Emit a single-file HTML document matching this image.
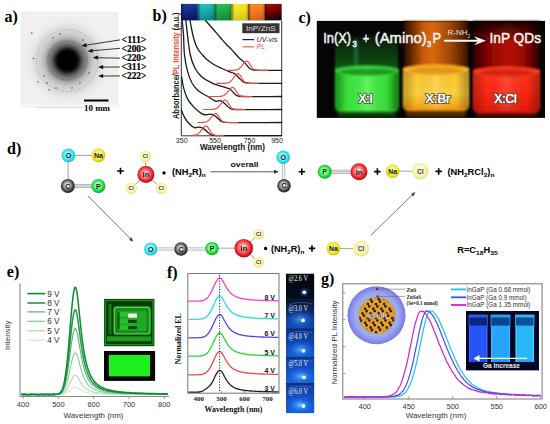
<!DOCTYPE html><html><head><meta charset="utf-8"><style>html,body{margin:0;padding:0;background:#fff;width:550px;height:424px;overflow:hidden}svg{display:block}</style></head><body>
<svg width="550" height="424" viewBox="0 0 550 424">
<defs>
<radialGradient id="diff" cx="0.5" cy="0.5" r="0.5">
<stop offset="0" stop-color="#000"/>
<stop offset="0.2" stop-color="#000"/>
<stop offset="0.25" stop-color="#1a1a1a"/>
<stop offset="0.3" stop-color="#4a4a4a"/>
<stop offset="0.38" stop-color="#7a7a7a"/>
<stop offset="0.45" stop-color="#9a9a9a"/>
<stop offset="0.5" stop-color="#bcbcbc"/>
<stop offset="0.6" stop-color="#cfcfcf"/>
<stop offset="0.72" stop-color="#dedede"/>
<stop offset="0.85" stop-color="#e8e8e8" stop-opacity="0.5"/>
<stop offset="1" stop-color="#eeeeee" stop-opacity="0"/>
</radialGradient>
<filter id="soft"><feGaussianBlur stdDeviation="0.6"/></filter>
<radialGradient id="ball" cx="0.38" cy="0.35" r="0.7">
<stop offset="0" stop-color="#fff" stop-opacity="0.9"/>
<stop offset="0.35" stop-color="#fff" stop-opacity="0"/>
<stop offset="1" stop-color="#000" stop-opacity="0.25"/>
</radialGradient>
</defs>
<text x="4.5" y="21.5" font-size="16" font-family="Liberation Serif, serif" font-weight="bold" fill="#000" text-anchor="start" >a)</text>
<rect x="20.5" y="11.5" width="98" height="96" fill="#f0f0f0"/>
<rect x="20.5" y="104" width="98" height="3.5" fill="#f6f6f6"/>
<line x1="37" y1="107.6" x2="83" y2="107.6" stroke="#d0d0d0" stroke-width="0.8"/>
<circle cx="67.3" cy="60.5" r="46" fill="url(#diff)"/>
<circle cx="67.3" cy="60.5" r="13.5" fill="none" stroke="#333" stroke-width="1" stroke-dasharray="1 1.6" opacity="0.25" filter="url(#soft)"/>
<circle cx="67.3" cy="60.5" r="19.5" fill="none" stroke="#333" stroke-width="1" stroke-dasharray="1 1.6" opacity="0.5" filter="url(#soft)"/>
<circle cx="67.3" cy="60.5" r="23.5" fill="none" stroke="#333" stroke-width="1" stroke-dasharray="1 1.6" opacity="0.2" filter="url(#soft)"/>
<circle cx="67.3" cy="60.5" r="31" fill="none" stroke="#333" stroke-width="1" stroke-dasharray="1 1.6" opacity="0.3" filter="url(#soft)"/>
<circle cx="31.8" cy="33" r="0.8" fill="#555"/>
<circle cx="33.5" cy="58.6" r="0.8" fill="#555"/>
<circle cx="44" cy="76" r="0.8" fill="#555"/>
<circle cx="47" cy="83" r="0.8" fill="#555"/>
<circle cx="56" cy="88" r="0.8" fill="#555"/>
<circle cx="72" cy="88" r="0.8" fill="#555"/>
<circle cx="80" cy="83" r="0.8" fill="#555"/>
<circle cx="89" cy="73" r="0.8" fill="#555"/>
<circle cx="53" cy="38" r="0.8" fill="#555"/>
<circle cx="83" cy="40" r="0.8" fill="#555"/>
<circle cx="93" cy="50" r="0.8" fill="#555"/>
<circle cx="60" cy="34" r="0.8" fill="#555"/>
<circle cx="38" cy="82" r="0.8" fill="#555"/>
<circle cx="49" cy="90" r="0.8" fill="#555"/>
<line x1="84" y1="100.5" x2="108.5" y2="100.5" stroke="#000" stroke-width="2"/>
<text x="84" y="110.5" font-size="8.5" font-family="Liberation Serif, serif" font-weight="bold" fill="#000" text-anchor="start" textLength="26" lengthAdjust="spacingAndGlyphs" >10 mm</text>
<text x="121.5" y="43.1" font-size="9.5" font-family="Liberation Serif, serif" font-weight="bold" fill="#000" text-anchor="start" textLength="25" lengthAdjust="spacingAndGlyphs" stroke="#000" stroke-width="0.2">&lt;111&gt;</text>
<line x1="120" y1="39.9" x2="85.9" y2="45.2" stroke="#222" stroke-width="0.9"/>
<path d="M81.5,45.9 L86.1,43.1 L86.8,47.2Z" fill="#111"/>
<text x="121.5" y="51.5" font-size="9.5" font-family="Liberation Serif, serif" font-weight="bold" fill="#000" text-anchor="start" textLength="25" lengthAdjust="spacingAndGlyphs" stroke="#000" stroke-width="0.2">&lt;200&gt;</text>
<line x1="120" y1="48.3" x2="92.0" y2="50.8" stroke="#222" stroke-width="0.9"/>
<path d="M87.5,51.2 L92.3,48.7 L92.7,52.8Z" fill="#111"/>
<text x="121.5" y="61.400000000000006" font-size="9.5" font-family="Liberation Serif, serif" font-weight="bold" fill="#000" text-anchor="start" textLength="25" lengthAdjust="spacingAndGlyphs" stroke="#000" stroke-width="0.2">&lt;220&gt;</text>
<line x1="120" y1="58.2" x2="97.3" y2="57.7" stroke="#222" stroke-width="0.9"/>
<path d="M92.8,57.6 L97.8,55.6 L97.8,59.8Z" fill="#111"/>
<text x="121.5" y="70.2" font-size="9.5" font-family="Liberation Serif, serif" font-weight="bold" fill="#000" text-anchor="start" textLength="25" lengthAdjust="spacingAndGlyphs" stroke="#000" stroke-width="0.2">&lt;311&gt;</text>
<line x1="120" y1="67" x2="102.6" y2="67.1" stroke="#222" stroke-width="0.9"/>
<path d="M98.1,67.1 L103.1,65.0 L103.1,69.2Z" fill="#111"/>
<text x="121.5" y="79.10000000000001" font-size="9.5" font-family="Liberation Serif, serif" font-weight="bold" fill="#000" text-anchor="start" textLength="25" lengthAdjust="spacingAndGlyphs" stroke="#000" stroke-width="0.2">&lt;222&gt;</text>
<line x1="120" y1="75.9" x2="102.6" y2="76.0" stroke="#222" stroke-width="0.9"/>
<path d="M98.1,76.0 L103.1,73.9 L103.1,78.1Z" fill="#111"/>
<text x="152.5" y="21" font-size="16" font-family="Liberation Serif, serif" font-weight="bold" fill="#000" text-anchor="start" >b)</text>
<defs>
<linearGradient id="cb0" x1="0" y1="0" x2="0.3" y2="1"><stop offset="0" stop-color="#2040a6"/><stop offset="0.55" stop-color="#18288a"/><stop offset="1" stop-color="#0c1460"/></linearGradient>
<linearGradient id="cb1" x1="0" y1="0" x2="0.3" y2="1"><stop offset="0" stop-color="#24c4c4"/><stop offset="0.55" stop-color="#16aab0"/><stop offset="1" stop-color="#0e8a90"/></linearGradient>
<linearGradient id="cb2" x1="0" y1="0" x2="0.3" y2="1"><stop offset="0" stop-color="#34c258"/><stop offset="0.55" stop-color="#22a84a"/><stop offset="1" stop-color="#16883a"/></linearGradient>
<linearGradient id="cb3" x1="0" y1="0" x2="0.3" y2="1"><stop offset="0" stop-color="#f6ec2a"/><stop offset="0.55" stop-color="#ece024"/><stop offset="1" stop-color="#d8c818"/></linearGradient>
<linearGradient id="cb4" x1="0" y1="0" x2="0.3" y2="1"><stop offset="0" stop-color="#f69028"/><stop offset="0.55" stop-color="#ee7a1e"/><stop offset="1" stop-color="#d86414"/></linearGradient>
<linearGradient id="cb5" x1="0" y1="0" x2="0.3" y2="1"><stop offset="0" stop-color="#b00c10"/><stop offset="0.55" stop-color="#6a0204"/><stop offset="1" stop-color="#2a0000"/></linearGradient>
<linearGradient id="cbEdge" x1="0" y1="0" x2="1" y2="0"><stop offset="0" stop-color="#000" stop-opacity="0.55"/><stop offset="0.18" stop-color="#000" stop-opacity="0"/><stop offset="0.85" stop-color="#000" stop-opacity="0"/><stop offset="1" stop-color="#000" stop-opacity="0.25"/></linearGradient>
</defs>
<rect x="181.00" y="3.9" width="16.85" height="16.7" fill="url(#cb0)"/>
<rect x="181.00" y="3.9" width="16.85" height="16.7" fill="url(#cbEdge)"/>
<rect x="197.75" y="3.9" width="16.85" height="16.7" fill="url(#cb1)"/>
<rect x="197.75" y="3.9" width="16.85" height="16.7" fill="url(#cbEdge)"/>
<rect x="214.50" y="3.9" width="16.85" height="16.7" fill="url(#cb2)"/>
<rect x="214.50" y="3.9" width="16.85" height="16.7" fill="url(#cbEdge)"/>
<rect x="231.25" y="3.9" width="16.85" height="16.7" fill="url(#cb3)"/>
<rect x="231.25" y="3.9" width="16.85" height="16.7" fill="url(#cbEdge)"/>
<rect x="248.00" y="3.9" width="16.85" height="16.7" fill="url(#cb4)"/>
<rect x="248.00" y="3.9" width="16.85" height="16.7" fill="url(#cbEdge)"/>
<rect x="264.75" y="3.9" width="16.85" height="16.7" fill="url(#cb5)"/>
<rect x="264.75" y="3.9" width="16.85" height="16.7" fill="url(#cbEdge)"/>
<line x1="181" y1="20.6" x2="282" y2="20.6" stroke="#8ee" stroke-width="0.6"/>
<path d="M181.3,20.5 V135.8 H281.7 V20.5" fill="none" stroke="#333" stroke-width="1"/>
<g fill="none" stroke-linejoin="round" stroke-linecap="round">
<path d="M205.6,20.5 C206.8,21.9 210.5,26.1 213.0,29.0 C215.5,31.9 218.3,35.3 220.5,37.8 C222.7,40.3 224.1,42.0 226.0,44.0 C227.9,46.0 229.7,47.6 231.9,49.9 C234.1,52.2 236.9,55.6 239.0,57.7 C241.1,59.8 242.7,60.7 244.6,62.6 C246.5,64.5 248.4,67.8 250.3,69.0 C252.2,70.2 252.7,69.9 256.0,70.1 C259.3,70.3 265.7,70.3 270.0,70.3 C274.3,70.3 279.8,70.3 281.7,70.3" stroke="#1a1a1a" stroke-width="1.3"/>
<path d="M190.0,20.5 C190.3,22.1 191.2,27.0 191.8,30.0 C192.4,33.0 193.0,35.8 193.8,38.5 C194.6,41.2 195.5,44.2 196.4,46.3 C197.3,48.4 198.3,49.8 199.3,51.2 C200.3,52.7 201.4,53.7 202.6,55.0 C203.8,56.3 204.6,57.5 206.3,59.0 C208.0,60.5 210.6,62.5 213.0,64.0 C215.4,65.5 218.2,66.7 221.0,68.0 C223.8,69.3 227.8,71.0 229.9,71.9 C232.0,72.8 232.4,72.7 233.5,73.2 C234.6,73.7 235.2,74.0 236.2,74.9 C237.2,75.8 238.3,77.3 239.5,78.5 C240.7,79.7 241.6,81.0 243.2,81.8 C244.8,82.6 245.3,82.9 248.9,83.2 C252.5,83.5 259.5,83.4 265.0,83.4 C270.5,83.4 278.9,83.4 281.7,83.4" stroke="#1a1a1a" stroke-width="1.3"/>
<path d="M185.8,20.5 C186.1,22.9 186.8,29.2 187.5,35.0 C188.2,40.8 189.1,49.5 190.3,55.0 C191.5,60.5 193.1,64.4 194.9,68.0 C196.7,71.6 198.5,73.9 201.3,76.4 C204.1,78.9 208.4,81.3 211.7,82.9 C214.9,84.5 218.2,85.2 220.8,86.1 C223.4,87.0 225.8,87.6 227.3,88.1 C228.8,88.6 228.5,87.8 230.0,89.0 C231.5,90.2 234.2,94.0 236.2,95.2 C238.2,96.5 238.0,96.3 242.0,96.5 C246.0,96.7 253.4,96.6 260.0,96.6 C266.6,96.6 278.1,96.5 281.7,96.5" stroke="#1a1a1a" stroke-width="1.3"/>
<path d="M182.2,20.5 C182.4,22.9 183.1,29.2 183.5,35.0 C183.9,40.8 183.8,48.9 184.5,55.0 C185.2,61.1 186.4,67.2 187.7,71.9 C189.0,76.7 190.5,80.3 192.3,83.5 C194.2,86.7 196.2,89.1 198.8,91.3 C201.4,93.5 205.0,94.8 207.8,96.5 C210.6,98.2 213.6,100.5 215.7,101.2 C217.8,101.9 218.8,100.1 220.4,100.6 C222.0,101.1 223.6,102.8 225.2,104.1 C226.8,105.4 228.3,107.4 229.9,108.3 C231.5,109.2 229.6,109.3 234.6,109.5 C239.6,109.7 252.2,109.6 260.0,109.6 C267.9,109.6 278.1,109.5 281.7,109.5" stroke="#1a1a1a" stroke-width="1.3"/>
<path d="M181.6,77.0 C182.0,79.0 182.8,85.0 183.8,88.7 C184.8,92.4 186.1,96.1 187.7,99.1 C189.3,102.1 191.3,104.5 193.6,106.9 C195.9,109.3 199.5,112.3 201.6,113.6 C203.7,114.9 204.7,114.7 206.3,114.8 C207.9,114.9 209.4,113.9 211.0,114.2 C212.6,114.5 214.1,115.4 215.7,116.5 C217.3,117.6 218.8,119.6 220.4,120.6 C222.0,121.6 220.3,122.1 225.2,122.4 C230.1,122.7 240.6,122.6 250.0,122.6 C259.4,122.6 276.4,122.5 281.7,122.5" stroke="#1a1a1a" stroke-width="1.3"/>
<path d="M181.3,110.0 C181.9,111.4 183.7,115.9 185.1,118.3 C186.5,120.7 188.2,122.6 189.8,124.2 C191.4,125.8 192.9,127.2 194.5,127.7 C196.1,128.2 197.6,126.9 199.2,127.1 C200.8,127.3 202.3,127.9 203.9,128.9 C205.5,129.9 207.0,131.9 208.6,133.0 C210.2,134.1 209.8,135.0 213.4,135.4 C217.0,135.8 218.6,135.6 230.0,135.6 C241.4,135.6 273.1,135.6 281.7,135.6" stroke="#1a1a1a" stroke-width="1.3"/>
<path d="M228.0,70.3 L228.5,70.3 L229.0,70.3 L229.5,70.3 L230.0,70.3 L230.5,70.3 L231.0,70.3 L231.5,70.3 L232.0,70.3 L232.5,70.3 L233.0,70.3 L233.5,70.2 L234.0,70.2 L234.5,70.2 L235.0,70.1 L235.5,70.1 L236.0,70.0 L236.5,69.9 L237.0,69.7 L237.5,69.5 L238.0,69.3 L238.5,69.0 L239.0,68.7 L239.5,68.3 L240.0,67.8 L240.5,67.3 L241.0,66.8 L241.5,66.2 L242.0,65.6 L242.5,64.9 L243.0,64.3 L243.5,63.6 L244.0,63.0 L244.5,62.5 L245.0,62.0 L245.5,61.6 L246.0,61.4 L246.5,61.2 L247.0,61.2 L247.5,61.4 L248.0,61.7 L248.5,62.3 L249.0,62.9 L249.5,63.7 L250.0,64.5 L250.5,65.3 L251.0,66.1 L251.5,66.8 L252.0,67.5 L252.5,68.1 L253.0,68.6 L253.5,69.0 L254.0,69.3 L254.5,69.6 L255.0,69.8 L255.5,70.0 L256.0,70.1 L256.5,70.1 L257.0,70.2 L257.5,70.2 L258.0,70.3 L258.5,70.3 L259.0,70.3 L259.5,70.3 L260.0,70.3 L260.5,70.3 L261.0,70.3 L261.5,70.3 L262.0,70.3 L262.5,70.3 L263.0,70.3 L263.5,70.3 L264.0,70.3 L264.5,70.3 L265.0,70.3 L265.5,70.3 L266.0,70.3 L266.5,70.3 L267.0,70.3 L267.5,70.3 L268.0,70.3" stroke="#f04a40" stroke-width="1.2"/>
<path d="M217.0,83.4 L217.5,83.4 L218.0,83.4 L218.5,83.4 L219.0,83.4 L219.5,83.4 L220.0,83.4 L220.5,83.4 L221.0,83.4 L221.5,83.4 L222.0,83.4 L222.5,83.4 L223.0,83.4 L223.5,83.4 L224.0,83.4 L224.5,83.3 L225.0,83.3 L225.5,83.3 L226.0,83.2 L226.5,83.2 L227.0,83.1 L227.5,83.0 L228.0,82.8 L228.5,82.6 L229.0,82.4 L229.5,82.1 L230.0,81.8 L230.5,81.4 L231.0,81.0 L231.5,80.5 L232.0,79.9 L232.5,79.3 L233.0,78.6 L233.5,77.9 L234.0,77.2 L234.5,76.5 L235.0,75.9 L235.5,75.3 L236.0,74.7 L236.5,74.3 L237.0,74.0 L237.5,73.8 L238.0,73.7 L238.5,73.8 L239.0,74.1 L239.5,74.6 L240.0,75.2 L240.5,76.0 L241.0,76.8 L241.5,77.7 L242.0,78.5 L242.5,79.4 L243.0,80.1 L243.5,80.8 L244.0,81.4 L244.5,81.8 L245.0,82.2 L245.5,82.5 L246.0,82.8 L246.5,83.0 L247.0,83.1 L247.5,83.2 L248.0,83.3 L248.5,83.3 L249.0,83.3 L249.5,83.4 L250.0,83.4 L250.5,83.4 L251.0,83.4 L251.5,83.4 L252.0,83.4 L252.5,83.4 L253.0,83.4 L253.5,83.4 L254.0,83.4 L254.5,83.4 L255.0,83.4 L255.5,83.4 L256.0,83.4 L256.5,83.4 L257.0,83.4 L257.5,83.4 L258.0,83.4" stroke="#f04a40" stroke-width="1.2"/>
<path d="M208.0,96.5 L208.5,96.5 L209.0,96.5 L209.5,96.5 L210.0,96.5 L210.5,96.5 L211.0,96.5 L211.5,96.5 L212.0,96.5 L212.5,96.5 L213.0,96.5 L213.5,96.5 L214.0,96.5 L214.5,96.5 L215.0,96.5 L215.5,96.5 L216.0,96.5 L216.5,96.5 L217.0,96.5 L217.5,96.5 L218.0,96.5 L218.5,96.5 L219.0,96.5 L219.5,96.4 L220.0,96.4 L220.5,96.4 L221.0,96.3 L221.5,96.2 L222.0,96.1 L222.5,96.0 L223.0,95.8 L223.5,95.6 L224.0,95.4 L224.5,95.1 L225.0,94.7 L225.5,94.3 L226.0,93.9 L226.5,93.3 L227.0,92.8 L227.5,92.1 L228.0,91.5 L228.5,90.8 L229.0,90.2 L229.5,89.6 L230.0,89.0 L230.5,88.5 L231.0,88.0 L231.5,87.7 L232.0,87.5 L232.5,87.4 L233.0,87.5 L233.5,87.7 L234.0,88.1 L234.5,88.7 L235.0,89.4 L235.5,90.2 L236.0,91.0 L236.5,91.8 L237.0,92.6 L237.5,93.3 L238.0,93.9 L238.5,94.5 L239.0,95.0 L239.5,95.3 L240.0,95.6 L240.5,95.9 L241.0,96.1 L241.5,96.2 L242.0,96.3 L242.5,96.4 L243.0,96.4 L243.5,96.4 L244.0,96.5 L244.5,96.5 L245.0,96.5 L245.5,96.5 L246.0,96.5 L246.5,96.5 L247.0,96.5 L247.5,96.5 L248.0,96.5 L248.5,96.5 L249.0,96.5 L249.5,96.5 L250.0,96.5 L250.5,96.5 L251.0,96.5 L251.5,96.5 L252.0,96.5" stroke="#f04a40" stroke-width="1.2"/>
<path d="M203.5,109.5 L204.0,109.5 L204.5,109.5 L205.0,109.5 L205.5,109.5 L206.0,109.5 L206.5,109.5 L207.0,109.5 L207.5,109.5 L208.0,109.5 L208.5,109.5 L209.0,109.5 L209.5,109.5 L210.0,109.5 L210.5,109.5 L211.0,109.5 L211.5,109.5 L212.0,109.4 L212.5,109.4 L213.0,109.4 L213.5,109.3 L214.0,109.2 L214.5,109.1 L215.0,109.0 L215.5,108.8 L216.0,108.6 L216.5,108.4 L217.0,108.1 L217.5,107.7 L218.0,107.3 L218.5,106.8 L219.0,106.3 L219.5,105.7 L220.0,105.1 L220.5,104.4 L221.0,103.7 L221.5,103.1 L222.0,102.4 L222.5,101.8 L223.0,101.2 L223.5,100.7 L224.0,100.4 L224.5,100.1 L225.0,100.0 L225.5,100.0 L226.0,100.3 L226.5,100.7 L227.0,101.2 L227.5,101.9 L228.0,102.7 L228.5,103.6 L229.0,104.4 L229.5,105.2 L230.0,106.0 L230.5,106.7 L231.0,107.3 L231.5,107.8 L232.0,108.2 L232.5,108.6 L233.0,108.8 L233.5,109.0 L234.0,109.2 L234.5,109.3 L235.0,109.4 L235.5,109.4 L236.0,109.4 L236.5,109.5 L237.0,109.5 L237.5,109.5 L238.0,109.5 L238.5,109.5 L239.0,109.5 L239.5,109.5 L240.0,109.5 L240.5,109.5 L241.0,109.5 L241.5,109.5 L242.0,109.5 L242.5,109.5 L243.0,109.5 L243.5,109.5 L244.0,109.5 L244.5,109.5 L245.0,109.5" stroke="#f04a40" stroke-width="1.2"/>
<path d="M198.0,122.5 L198.5,122.5 L199.0,122.5 L199.5,122.5 L200.0,122.5 L200.5,122.5 L201.0,122.5 L201.5,122.5 L202.0,122.5 L202.5,122.4 L203.0,122.4 L203.5,122.4 L204.0,122.3 L204.5,122.2 L205.0,122.2 L205.5,122.0 L206.0,121.9 L206.5,121.7 L207.0,121.5 L207.5,121.2 L208.0,120.8 L208.5,120.5 L209.0,120.0 L209.5,119.5 L210.0,119.0 L210.5,118.4 L211.0,117.7 L211.5,117.1 L212.0,116.5 L212.5,115.8 L213.0,115.3 L213.5,114.7 L214.0,114.3 L214.5,114.0 L215.0,113.7 L215.5,113.6 L216.0,113.6 L216.5,113.8 L217.0,114.2 L217.5,114.8 L218.0,115.4 L218.5,116.2 L219.0,116.9 L219.5,117.7 L220.0,118.5 L220.5,119.2 L221.0,119.9 L221.5,120.4 L222.0,120.9 L222.5,121.3 L223.0,121.6 L223.5,121.9 L224.0,122.0 L224.5,122.2 L225.0,122.3 L225.5,122.4 L226.0,122.4 L226.5,122.4 L227.0,122.5 L227.5,122.5 L228.0,122.5 L228.5,122.5 L229.0,122.5 L229.5,122.5 L230.0,122.5 L230.5,122.5 L231.0,122.5 L231.5,122.5 L232.0,122.5 L232.5,122.5 L233.0,122.5 L233.5,122.5 L234.0,122.5 L234.5,122.5 L235.0,122.5 L235.5,122.5 L236.0,122.5 L236.5,122.5 L237.0,122.5 L237.5,122.5 L238.0,122.5" stroke="#f04a40" stroke-width="1.2"/>
<path d="M189.0,135.5 L189.5,135.5 L190.0,135.5 L190.5,135.5 L191.0,135.5 L191.5,135.5 L192.0,135.5 L192.5,135.4 L193.0,135.4 L193.5,135.4 L194.0,135.3 L194.5,135.3 L195.0,135.2 L195.5,135.1 L196.0,134.9 L196.5,134.8 L197.0,134.5 L197.5,134.3 L198.0,134.0 L198.5,133.6 L199.0,133.1 L199.5,132.6 L200.0,132.1 L200.5,131.5 L201.0,130.8 L201.5,130.1 L202.0,129.5 L202.5,128.8 L203.0,128.1 L203.5,127.5 L204.0,127.0 L204.5,126.6 L205.0,126.3 L205.5,126.1 L206.0,126.0 L206.5,126.1 L207.0,126.4 L207.5,126.9 L208.0,127.5 L208.5,128.3 L209.0,129.1 L209.5,129.9 L210.0,130.7 L210.5,131.5 L211.0,132.3 L211.5,132.9 L212.0,133.5 L212.5,134.0 L213.0,134.4 L213.5,134.7 L214.0,134.9 L214.5,135.1 L215.0,135.2 L215.5,135.3 L216.0,135.4 L216.5,135.4 L217.0,135.4 L217.5,135.5 L218.0,135.5 L218.5,135.5 L219.0,135.5 L219.5,135.5 L220.0,135.5 L220.5,135.5 L221.0,135.5 L221.5,135.5 L222.0,135.5 L222.5,135.5 L223.0,135.5 L223.5,135.5 L224.0,135.5" stroke="#f04a40" stroke-width="1.2"/>
</g>
<rect x="242.3" y="23.3" width="37.2" height="9.9" fill="#333"/>
<text x="260.9" y="31" font-size="7" font-family="Liberation Sans, sans-serif" font-weight="normal" fill="#ddd" text-anchor="middle" textLength="30" lengthAdjust="spacingAndGlyphs" >InP/ZnS</text>
<line x1="242.5" y1="39.6" x2="254" y2="39.6" stroke="#222" stroke-width="1.2"/>
<text x="256.5" y="42" font-size="7.5" font-family="Liberation Sans, sans-serif" font-weight="normal" fill="#222" text-anchor="start" textLength="21" lengthAdjust="spacingAndGlyphs" font-style="italic">UV-vis</text>
<line x1="242.5" y1="46.8" x2="254" y2="46.8" stroke="#f06050" stroke-width="1.2"/>
<text x="256.5" y="49.3" font-size="7.5" font-family="Liberation Sans, sans-serif" font-weight="normal" fill="#f04a40" text-anchor="start" textLength="8.5" lengthAdjust="spacingAndGlyphs" font-style="italic">PL</text>
<text x="181.7" y="143.3" font-size="7" font-family="Liberation Sans, sans-serif" font-weight="normal" fill="#222" text-anchor="middle" >350</text>
<text x="215" y="143.3" font-size="7" font-family="Liberation Sans, sans-serif" font-weight="normal" fill="#222" text-anchor="middle" >550</text>
<text x="249.5" y="143.3" font-size="7" font-family="Liberation Sans, sans-serif" font-weight="normal" fill="#222" text-anchor="middle" >750</text>
<text x="277" y="143.3" font-size="7" font-family="Liberation Sans, sans-serif" font-weight="normal" fill="#222" text-anchor="middle" >950</text>
<text x="232.5" y="149.5" font-size="8.2" font-family="Liberation Sans, sans-serif" font-weight="bold" fill="#111" text-anchor="middle" textLength="65" lengthAdjust="spacingAndGlyphs" >Wavelength (nm)</text>
<g transform="translate(178.6,119) rotate(-90)">
<text x="0" y="0" font-size="8.2" font-family="Liberation Sans, sans-serif" font-weight="bold" textLength="106.5" lengthAdjust="spacingAndGlyphs"><tspan fill="#111">Absorbance/</tspan><tspan fill="#f04a40">PL Intensity</tspan><tspan fill="#111"> (a.u.)</tspan></text>
</g>
<text x="298.5" y="23.2" font-size="16" font-family="Liberation Serif, serif" font-weight="bold" fill="#000" text-anchor="start" >c)</text>
<rect x="316.8" y="20.9" width="228.2" height="97" fill="#050505"/>
<defs>
<linearGradient id="gUp" x1="0" y1="0" x2="0" y2="1"><stop offset="0" stop-color="#0a2a0a" stop-opacity="0"/><stop offset="0.5" stop-color="#0f4a12"/><stop offset="1" stop-color="#1f8a22"/></linearGradient>
<linearGradient id="gLiq" x1="0" y1="0" x2="0" y2="1"><stop offset="0" stop-color="#2ecf2e"/><stop offset="0.5" stop-color="#3ae83a"/><stop offset="1" stop-color="#1aa01a"/></linearGradient>
<linearGradient id="oUp" x1="0" y1="0" x2="1" y2="0"><stop offset="0" stop-color="#b04a05"/><stop offset="0.4" stop-color="#e0700f"/><stop offset="0.7" stop-color="#a04808"/><stop offset="1" stop-color="#5a2000"/></linearGradient>
<linearGradient id="oLiq" x1="0" y1="0" x2="0" y2="1"><stop offset="0" stop-color="#ffb81c"/><stop offset="0.45" stop-color="#ffd23a"/><stop offset="0.8" stop-color="#f5a012"/><stop offset="1" stop-color="#c86a05"/></linearGradient>
<linearGradient id="rUp" x1="0" y1="0" x2="1" y2="0"><stop offset="0" stop-color="#500000"/><stop offset="0.3" stop-color="#9a0805"/><stop offset="0.6" stop-color="#c01008"/><stop offset="1" stop-color="#400000"/></linearGradient>
<linearGradient id="rLiq" x1="0" y1="0" x2="0" y2="1"><stop offset="0" stop-color="#ff3a1c"/><stop offset="0.5" stop-color="#ff2410"/><stop offset="1" stop-color="#d01408"/></linearGradient>
<linearGradient id="vUpFade" x1="0" y1="0" x2="0" y2="1"><stop offset="0" stop-color="#000" stop-opacity="0.7"/><stop offset="1" stop-color="#000" stop-opacity="0"/></linearGradient>
<filter id="blur1"><feGaussianBlur stdDeviation="1.2"/></filter>
<filter id="blur2"><feGaussianBlur stdDeviation="2.5"/></filter>
</defs>
<defs>
<linearGradient id="gUp2" x1="0" y1="0" x2="0" y2="1"><stop offset="0" stop-color="#061a06"/><stop offset="0.6" stop-color="#0d400e"/><stop offset="1" stop-color="#14601a"/></linearGradient>
<linearGradient id="gL2" x1="0" y1="0" x2="1" y2="0"><stop offset="0" stop-color="#22c022"/><stop offset="0.15" stop-color="#38e038"/><stop offset="0.5" stop-color="#4cf04c"/><stop offset="0.85" stop-color="#36dc36"/><stop offset="1" stop-color="#1ea81e"/></linearGradient>
<linearGradient id="oUp2" x1="0" y1="0" x2="1" y2="0"><stop offset="0" stop-color="#2a0e00"/><stop offset="0.12" stop-color="#6a2a02"/><stop offset="0.3" stop-color="#c85a0a"/><stop offset="0.45" stop-color="#d86a10"/><stop offset="0.75" stop-color="#9a4206"/><stop offset="1" stop-color="#3a1400"/></linearGradient>
<linearGradient id="oL2" x1="0" y1="0" x2="0" y2="1"><stop offset="0" stop-color="#ffa41a"/><stop offset="0.25" stop-color="#ffc830"/><stop offset="0.6" stop-color="#ffd23e"/><stop offset="0.9" stop-color="#f8a818"/><stop offset="1" stop-color="#d87808"/></linearGradient>
<linearGradient id="rUp2" x1="0" y1="0" x2="1" y2="0"><stop offset="0" stop-color="#300000"/><stop offset="0.25" stop-color="#8a0604"/><stop offset="0.55" stop-color="#b80c06"/><stop offset="0.8" stop-color="#8a0604"/><stop offset="1" stop-color="#200000"/></linearGradient>
<linearGradient id="rL2" x1="0" y1="0" x2="0" y2="1"><stop offset="0" stop-color="#ff3a1e"/><stop offset="0.5" stop-color="#ff2a14"/><stop offset="1" stop-color="#e01a0a"/></linearGradient>
<linearGradient id="topFade" x1="0" y1="0" x2="0" y2="1"><stop offset="0" stop-color="#050505" stop-opacity="0.85"/><stop offset="1" stop-color="#050505" stop-opacity="0"/></linearGradient>
</defs>
<g filter="url(#blur1)">
<rect x="335" y="36" width="63" height="36" fill="url(#gUp2)"/>
<rect x="354" y="40" width="4" height="28" fill="#2a8a5a" opacity="0.5"/>
<rect x="404" y="21" width="64" height="50" fill="url(#oUp2)"/>
<rect x="473" y="21" width="67" height="52" fill="url(#rUp2)"/>
<rect x="473" y="21" width="67" height="22" fill="url(#topFade)"/>
<path d="M335,69 Q367,64 399,69 V106 Q399,113 390,113 H344 Q335,113 335,106Z" fill="url(#gL2)"/>
<path d="M403,68 Q436,62 469,68 V105 Q469,112 460,112 H412 Q403,112 403,105Z" fill="url(#oL2)"/>
<path d="M473,70 Q506,64 540,70 V107 Q540,114 531,114 H482 Q473,114 473,107Z" fill="url(#rL2)"/>
</g>
<defs><linearGradient id="hshade" x1="0" y1="0" x2="1" y2="0"><stop offset="0" stop-color="#000" stop-opacity="0.25"/><stop offset="0.2" stop-color="#000" stop-opacity="0"/><stop offset="0.5" stop-color="#fff" stop-opacity="0.12"/><stop offset="0.8" stop-color="#000" stop-opacity="0"/><stop offset="1" stop-color="#000" stop-opacity="0.3"/></linearGradient></defs>
<g filter="url(#blur1)">
<rect x="336" y="72" width="62" height="38" fill="url(#hshade)"/>
<rect x="404" y="71" width="64" height="38" fill="url(#hshade)"/>
<rect x="474" y="73" width="65" height="38" fill="url(#hshade)"/>
</g>
<ellipse cx="367" cy="70.5" rx="31" ry="4.8" fill="none" stroke="#70ff70" stroke-width="1" opacity="0.6" filter="url(#blur1)"/>
<ellipse cx="367" cy="72" rx="27" ry="3.4" fill="#128a14" opacity="0.8" filter="url(#blur1)"/>
<ellipse cx="436" cy="69.5" rx="31" ry="4.8" fill="none" stroke="#ffe080" stroke-width="1" opacity="0.6" filter="url(#blur1)"/>
<ellipse cx="436" cy="71" rx="27" ry="3.4" fill="#d88a10" opacity="0.7" filter="url(#blur1)"/>
<ellipse cx="506.5" cy="71.5" rx="31" ry="4.8" fill="none" stroke="#ff7050" stroke-width="1" opacity="0.5" filter="url(#blur1)"/>
<ellipse cx="506.5" cy="73" rx="27" ry="3.4" fill="#c81a0a" opacity="0.7" filter="url(#blur1)"/>
<rect x="338" y="111" width="58" height="6" fill="#0a5a0a" opacity="0.6" filter="url(#blur1)"/>
<rect x="406" y="111" width="60" height="6" fill="#7a4000" opacity="0.6" filter="url(#blur1)"/>
<rect x="476" y="112" width="61" height="5" fill="#7a0a00" opacity="0.6" filter="url(#blur1)"/>
<text x="323.2" y="43" font-size="15.5" font-family="Liberation Sans, sans-serif" fill="#f2f2f2" textLength="27.9" lengthAdjust="spacingAndGlyphs" stroke="#f0f0f0" stroke-width="0.55" stroke-linejoin="round">In(X)</text>
<text x="352.6" y="46.8" font-size="8.5" font-family="Liberation Sans, sans-serif" fill="#f2f2f2" textLength="4.2" lengthAdjust="spacingAndGlyphs" stroke="#f0f0f0" stroke-width="0.55" stroke-linejoin="round">3</text>
<text x="362.8" y="43" font-size="15.5" font-family="Liberation Sans, sans-serif" fill="#f2f2f2" textLength="6.5" lengthAdjust="spacingAndGlyphs" stroke="#f0f0f0" stroke-width="0.55" stroke-linejoin="round">+</text>
<text x="374.7" y="43" font-size="15.5" font-family="Liberation Sans, sans-serif" fill="#f2f2f2" textLength="52" lengthAdjust="spacingAndGlyphs" stroke="#f0f0f0" stroke-width="0.55" stroke-linejoin="round">(Amino)</text>
<text x="427" y="46.8" font-size="8.5" font-family="Liberation Sans, sans-serif" fill="#f2f2f2" textLength="4.2" lengthAdjust="spacingAndGlyphs" stroke="#f0f0f0" stroke-width="0.55" stroke-linejoin="round">3</text>
<text x="432.5" y="43" font-size="15.5" font-family="Liberation Sans, sans-serif" fill="#f2f2f2" textLength="8.6" lengthAdjust="spacingAndGlyphs" stroke="#f0f0f0" stroke-width="0.55" stroke-linejoin="round">P</text>
<text x="447.6" y="34.8" font-size="8" font-family="Liberation Sans, sans-serif" fill="#e0e0e0" textLength="20" lengthAdjust="spacingAndGlyphs">R-NH</text>
<text x="467.6" y="38" font-size="5" font-family="Liberation Sans, sans-serif" fill="#e0e0e0">2</text>
<line x1="444" y1="40.8" x2="480" y2="40.8" stroke="#fafafa" stroke-width="2"/>
<path d="M486,40.8 L474,36.3 L478.5,40.8 L474,45.3Z" fill="#fafafa"/>
<text x="489.5" y="43.3" font-size="15.5" font-family="Liberation Sans, sans-serif" fill="#f2f2f2" textLength="51.5" lengthAdjust="spacingAndGlyphs" stroke="#f0f0f0" stroke-width="0.55" stroke-linejoin="round">InP QDs</text>
<text x="358.4" y="102.6" font-size="12.5" font-family="Liberation Sans, sans-serif" fill="#fff" textLength="14.4" lengthAdjust="spacingAndGlyphs" stroke="#3a3a3a" stroke-width="2.2" paint-order="stroke" stroke-linejoin="round">X:I</text>
<text x="358.4" y="102.6" font-size="12.5" font-family="Liberation Sans, sans-serif" fill="#fff" textLength="14.4" lengthAdjust="spacingAndGlyphs" stroke="#fff" stroke-width="0.4">X:I</text>
<text x="425.2" y="102.6" font-size="12.5" font-family="Liberation Sans, sans-serif" fill="#fff" textLength="25.2" lengthAdjust="spacingAndGlyphs" stroke="#3a3a3a" stroke-width="2.2" paint-order="stroke" stroke-linejoin="round">X:Br</text>
<text x="425.2" y="102.6" font-size="12.5" font-family="Liberation Sans, sans-serif" fill="#fff" textLength="25.2" lengthAdjust="spacingAndGlyphs" stroke="#fff" stroke-width="0.4">X:Br</text>
<text x="494.2" y="102.6" font-size="12.5" font-family="Liberation Sans, sans-serif" fill="#fff" textLength="22.6" lengthAdjust="spacingAndGlyphs" stroke="#3a3a3a" stroke-width="2.2" paint-order="stroke" stroke-linejoin="round">X:Cl</text>
<text x="494.2" y="102.6" font-size="12.5" font-family="Liberation Sans, sans-serif" fill="#fff" textLength="22.6" lengthAdjust="spacingAndGlyphs" stroke="#fff" stroke-width="0.4">X:Cl</text>
<text x="7" y="154.3" font-size="16" font-family="Liberation Serif, serif" font-weight="bold" fill="#000" text-anchor="start" >d)</text>
<line x1="68.4" y1="155.4" x2="98.4" y2="155.4" stroke="#a8a8a8" stroke-width="1.1"/>
<line x1="68.1" y1="155.4" x2="68.1" y2="186.0" stroke="#a8a8a8" stroke-width="1.1"/>
<line x1="67.8" y1="184.6" x2="98.4" y2="184.6" stroke="#a8a8a8" stroke-width="0.9"/>
<line x1="67.8" y1="186.0" x2="98.4" y2="186.0" stroke="#a8a8a8" stroke-width="0.9"/>
<line x1="67.8" y1="187.4" x2="98.4" y2="187.4" stroke="#a8a8a8" stroke-width="0.9"/>
<radialGradient id="at1" cx="0.47" cy="0.45" r="0.55"><stop offset="0" stop-color="#f4ffff"/><stop offset="0.3" stop-color="#9af4fa"/><stop offset="0.7" stop-color="#2ee4f0"/><stop offset="1" stop-color="#14b8c8"/></radialGradient>
<circle cx="68.4" cy="155.4" r="6.8" fill="url(#at1)"/>
<text x="68.4" y="157.9" font-size="7.0" font-family="Liberation Sans, sans-serif" font-weight="bold" fill="#111" text-anchor="middle">O</text>
<radialGradient id="at2" cx="0.47" cy="0.45" r="0.55"><stop offset="0" stop-color="#ffffe8"/><stop offset="0.3" stop-color="#fcf8a0"/><stop offset="0.7" stop-color="#f4ec22"/><stop offset="1" stop-color="#c8b800"/></radialGradient>
<circle cx="98.4" cy="155.4" r="6.8" fill="url(#at2)"/>
<text x="98.4" y="157.9" font-size="7.0" font-family="Liberation Sans, sans-serif" font-weight="bold" fill="#111" text-anchor="middle">Na</text>
<radialGradient id="at3" cx="0.47" cy="0.45" r="0.55"><stop offset="0" stop-color="#ffffff"/><stop offset="0.3" stop-color="#c8c8c8"/><stop offset="0.7" stop-color="#505050"/><stop offset="1" stop-color="#1a1a1a"/></radialGradient>
<circle cx="67.8" cy="186" r="7" fill="url(#at3)"/>
<text x="67.8" y="188.5" font-size="7.0" font-family="Liberation Sans, sans-serif" font-weight="bold" fill="#111" text-anchor="middle">C</text>
<radialGradient id="at4" cx="0.47" cy="0.45" r="0.55"><stop offset="0" stop-color="#f0fff0"/><stop offset="0.3" stop-color="#a0f8a8"/><stop offset="0.7" stop-color="#1ee23a"/><stop offset="1" stop-color="#0c9a1c"/></radialGradient>
<circle cx="98.4" cy="186" r="7" fill="url(#at4)"/>
<text x="98.4" y="188.5" font-size="7.0" font-family="Liberation Sans, sans-serif" font-weight="bold" fill="#111" text-anchor="middle">P</text>
<path d="M117.2,171 H123.8 M120.5,167.8 V174.2" stroke="#000" stroke-width="1.6"/>
<line x1="145.9" y1="174.6" x2="145.4" y2="156.5" stroke="#9a9a9a" stroke-width="0.9"/>
<line x1="145.9" y1="174.6" x2="131.2" y2="188.2" stroke="#9a9a9a" stroke-width="0.9"/>
<line x1="145.9" y1="174.6" x2="161.2" y2="188.2" stroke="#9a9a9a" stroke-width="0.9"/>
<radialGradient id="at5" cx="0.47" cy="0.45" r="0.55"><stop offset="0" stop-color="#fffff4"/><stop offset="0.3" stop-color="#fcfcd4"/><stop offset="0.7" stop-color="#f6f4a8"/><stop offset="1" stop-color="#e8e070"/></radialGradient>
<circle cx="145.4" cy="156.5" r="5.7" fill="url(#at5)"/>
<text x="145.4" y="158.4" font-size="5.2" font-family="Liberation Sans, sans-serif" font-weight="bold" fill="#333" text-anchor="middle">Cl</text>
<radialGradient id="at6" cx="0.47" cy="0.45" r="0.55"><stop offset="0" stop-color="#fffff4"/><stop offset="0.3" stop-color="#fcfcd4"/><stop offset="0.7" stop-color="#f6f4a8"/><stop offset="1" stop-color="#e8e070"/></radialGradient>
<circle cx="131.2" cy="188.2" r="5.7" fill="url(#at6)"/>
<text x="131.2" y="190.1" font-size="5.2" font-family="Liberation Sans, sans-serif" font-weight="bold" fill="#333" text-anchor="middle">Cl</text>
<radialGradient id="at7" cx="0.47" cy="0.45" r="0.55"><stop offset="0" stop-color="#fffff4"/><stop offset="0.3" stop-color="#fcfcd4"/><stop offset="0.7" stop-color="#f6f4a8"/><stop offset="1" stop-color="#e8e070"/></radialGradient>
<circle cx="161.2" cy="188.2" r="5.7" fill="url(#at7)"/>
<text x="161.2" y="190.1" font-size="5.2" font-family="Liberation Sans, sans-serif" font-weight="bold" fill="#333" text-anchor="middle">Cl</text>
<radialGradient id="at8" cx="0.47" cy="0.45" r="0.55"><stop offset="0" stop-color="#fff0f0"/><stop offset="0.3" stop-color="#ffa0a0"/><stop offset="0.7" stop-color="#f02a30"/><stop offset="1" stop-color="#b00810"/></radialGradient>
<circle cx="145.9" cy="174.6" r="8.5" fill="url(#at8)"/>
<text x="145.9" y="177.3" font-size="7.5" font-family="Liberation Sans, sans-serif" font-weight="bold" fill="#111" text-anchor="middle">In</text>
<circle cx="164" cy="172.9" r="1.7" fill="#000"/>
<text x="172" y="175" font-size="8.6" font-family="Liberation Sans, sans-serif" font-weight="bold" textLength="33.8" lengthAdjust="spacingAndGlyphs">(NH<tspan font-size="6" dy="2">2</tspan><tspan dy="-2">R)</tspan><tspan font-size="6" dy="2.2">n</tspan></text>
<line x1="210.5" y1="171.8" x2="275.0" y2="171.8" stroke="#333" stroke-width="0.8"/>
<path d="M279.0,171.8 L274.0,173.8 L274.0,169.8Z" fill="#333"/>
<text x="244.5" y="166.5" font-size="8" font-family="Liberation Sans, sans-serif" font-weight="bold" fill="#111" text-anchor="middle" textLength="28" lengthAdjust="spacingAndGlyphs" >overall</text>
<line x1="284.7" y1="157.3" x2="284.7" y2="185.8" stroke="#b0b0b0" stroke-width="0.9"/>
<line x1="282.3" y1="157.3" x2="282.3" y2="185.8" stroke="#b0b0b0" stroke-width="0.9"/>
<radialGradient id="at9" cx="0.47" cy="0.45" r="0.55"><stop offset="0" stop-color="#f4ffff"/><stop offset="0.3" stop-color="#9af4fa"/><stop offset="0.7" stop-color="#2ee4f0"/><stop offset="1" stop-color="#14b8c8"/></radialGradient>
<circle cx="283.2" cy="157.3" r="6.8" fill="url(#at9)"/>
<text x="283.2" y="159.8" font-size="7.0" font-family="Liberation Sans, sans-serif" font-weight="bold" fill="#111" text-anchor="middle">O</text>
<radialGradient id="at10" cx="0.47" cy="0.45" r="0.55"><stop offset="0" stop-color="#ffffff"/><stop offset="0.3" stop-color="#c8c8c8"/><stop offset="0.7" stop-color="#505050"/><stop offset="1" stop-color="#1a1a1a"/></radialGradient>
<circle cx="284" cy="185.8" r="6.8" fill="url(#at10)"/>
<text x="284" y="188.3" font-size="7.0" font-family="Liberation Sans, sans-serif" font-weight="bold" fill="#111" text-anchor="middle">C</text>
<path d="M298.6,171.8 H305.1 M301.8,168.6 V175.1" stroke="#000" stroke-width="1.6"/>
<line x1="324.7" y1="170.2" x2="359.0" y2="170.2" stroke="#a0a0a0" stroke-width="0.8"/>
<line x1="324.7" y1="171.8" x2="359.0" y2="171.8" stroke="#a0a0a0" stroke-width="0.8"/>
<line x1="324.7" y1="173.4" x2="359.0" y2="173.4" stroke="#a0a0a0" stroke-width="0.8"/>
<radialGradient id="at11" cx="0.47" cy="0.45" r="0.55"><stop offset="0" stop-color="#f0fff0"/><stop offset="0.3" stop-color="#a0f8a8"/><stop offset="0.7" stop-color="#1ee23a"/><stop offset="1" stop-color="#0c9a1c"/></radialGradient>
<circle cx="324.7" cy="171.8" r="7" fill="url(#at11)"/>
<text x="324.7" y="174.3" font-size="7.0" font-family="Liberation Sans, sans-serif" font-weight="bold" fill="#111" text-anchor="middle">P</text>
<radialGradient id="at12" cx="0.47" cy="0.45" r="0.55"><stop offset="0" stop-color="#fff0f0"/><stop offset="0.3" stop-color="#ffa0a0"/><stop offset="0.7" stop-color="#f02a30"/><stop offset="1" stop-color="#b00810"/></radialGradient>
<circle cx="359" cy="171.8" r="8.5" fill="url(#at12)"/>
<text x="359" y="174.5" font-size="7.6" font-family="Liberation Sans, sans-serif" font-weight="bold" fill="#111" text-anchor="middle">In</text>
<path d="M374.1,171.6 H380.6 M377.4,168.3 V174.8" stroke="#000" stroke-width="1.6"/>
<line x1="392.6" y1="171.2" x2="420.2" y2="171.2" stroke="#9a9a9a" stroke-width="0.9"/>
<radialGradient id="at13" cx="0.47" cy="0.45" r="0.55"><stop offset="0" stop-color="#ffffe8"/><stop offset="0.3" stop-color="#fcf8a0"/><stop offset="0.7" stop-color="#f4ec22"/><stop offset="1" stop-color="#c8b800"/></radialGradient>
<circle cx="392.6" cy="171.2" r="6.8" fill="url(#at13)"/>
<text x="392.6" y="173.6" font-size="6.8" font-family="Liberation Sans, sans-serif" font-weight="bold" fill="#111" text-anchor="middle">Na</text>
<radialGradient id="at14" cx="0.47" cy="0.45" r="0.55"><stop offset="0" stop-color="#fffff4"/><stop offset="0.3" stop-color="#fcfcd4"/><stop offset="0.7" stop-color="#f6f4a8"/><stop offset="1" stop-color="#e8e070"/></radialGradient>
<circle cx="420.2" cy="171.2" r="8.3" fill="url(#at14)"/>
<text x="420.2" y="173.6" font-size="6.6" font-family="Liberation Sans, sans-serif" font-weight="bold" fill="#333" text-anchor="middle">Cl</text>
<path d="M435.4,171.4 H441.9 M438.7,168.2 V174.7" stroke="#000" stroke-width="1.6"/>
<text x="447.4" y="174.7" font-size="8.6" font-family="Liberation Sans, sans-serif" font-weight="bold" textLength="47" lengthAdjust="spacingAndGlyphs">(NH<tspan font-size="6" dy="2">2</tspan><tspan dy="-2">RCl</tspan><tspan font-size="6" dy="2">2</tspan><tspan dy="-2">)</tspan><tspan font-size="6" dy="2.2">n</tspan></text>
<line x1="88" y1="195.8" x2="130.9" y2="239.3" stroke="#444" stroke-width="0.7"/>
<path d="M133.4,241.8 L129.0,239.9 L131.5,237.3Z" fill="#444"/>
<line x1="150.9" y1="247.9" x2="181.4" y2="247.9" stroke="#b0b0b0" stroke-width="0.9"/>
<line x1="150.9" y1="250.1" x2="181.4" y2="250.1" stroke="#b0b0b0" stroke-width="0.9"/>
<line x1="181.4" y1="247.9" x2="212.0" y2="247.9" stroke="#b0b0b0" stroke-width="0.9"/>
<line x1="181.4" y1="250.1" x2="212.0" y2="250.1" stroke="#b0b0b0" stroke-width="0.9"/>
<line x1="212.0" y1="248.2" x2="243.8" y2="248.2" stroke="#9a9a9a" stroke-width="0.9"/>
<line x1="243.8" y1="248.2" x2="258.5" y2="234.2" stroke="#9a9a9a" stroke-width="0.9"/>
<line x1="243.8" y1="248.2" x2="258.5" y2="262.2" stroke="#9a9a9a" stroke-width="0.9"/>
<radialGradient id="at15" cx="0.47" cy="0.45" r="0.55"><stop offset="0" stop-color="#f4ffff"/><stop offset="0.3" stop-color="#9af4fa"/><stop offset="0.7" stop-color="#2ee4f0"/><stop offset="1" stop-color="#14b8c8"/></radialGradient>
<circle cx="150.7" cy="249" r="6.6" fill="url(#at15)"/>
<text x="150.7" y="251.5" font-size="7.0" font-family="Liberation Sans, sans-serif" font-weight="bold" fill="#111" text-anchor="middle">O</text>
<radialGradient id="at16" cx="0.47" cy="0.45" r="0.55"><stop offset="0" stop-color="#ffffff"/><stop offset="0.3" stop-color="#c8c8c8"/><stop offset="0.7" stop-color="#505050"/><stop offset="1" stop-color="#1a1a1a"/></radialGradient>
<circle cx="181" cy="249" r="6.7" fill="url(#at16)"/>
<text x="181" y="251.5" font-size="7.0" font-family="Liberation Sans, sans-serif" font-weight="bold" fill="#111" text-anchor="middle">C</text>
<radialGradient id="at17" cx="0.47" cy="0.45" r="0.55"><stop offset="0" stop-color="#f0fff0"/><stop offset="0.3" stop-color="#a0f8a8"/><stop offset="0.7" stop-color="#1ee23a"/><stop offset="1" stop-color="#0c9a1c"/></radialGradient>
<circle cx="212" cy="248.6" r="6.7" fill="url(#at17)"/>
<text x="212" y="251.1" font-size="7.0" font-family="Liberation Sans, sans-serif" font-weight="bold" fill="#111" text-anchor="middle">P</text>
<radialGradient id="at18" cx="0.47" cy="0.45" r="0.55"><stop offset="0" stop-color="#fffff4"/><stop offset="0.3" stop-color="#fcfcd4"/><stop offset="0.7" stop-color="#f6f4a8"/><stop offset="1" stop-color="#e8e070"/></radialGradient>
<circle cx="258.5" cy="234.2" r="5.5" fill="url(#at18)"/>
<text x="258.5" y="236.1" font-size="5.2" font-family="Liberation Sans, sans-serif" font-weight="bold" fill="#333" text-anchor="middle">Cl</text>
<radialGradient id="at19" cx="0.47" cy="0.45" r="0.55"><stop offset="0" stop-color="#fffff4"/><stop offset="0.3" stop-color="#fcfcd4"/><stop offset="0.7" stop-color="#f6f4a8"/><stop offset="1" stop-color="#e8e070"/></radialGradient>
<circle cx="258.5" cy="262.2" r="5.5" fill="url(#at19)"/>
<text x="258.5" y="264.1" font-size="5.2" font-family="Liberation Sans, sans-serif" font-weight="bold" fill="#333" text-anchor="middle">Cl</text>
<radialGradient id="at20" cx="0.47" cy="0.45" r="0.55"><stop offset="0" stop-color="#fff0f0"/><stop offset="0.3" stop-color="#ffa0a0"/><stop offset="0.7" stop-color="#f02a30"/><stop offset="1" stop-color="#b00810"/></radialGradient>
<circle cx="243.8" cy="248.2" r="9.3" fill="url(#at20)"/>
<text x="243.8" y="251.0" font-size="7.8" font-family="Liberation Sans, sans-serif" font-weight="bold" fill="#111" text-anchor="middle">In</text>
<circle cx="265.6" cy="248.5" r="1.7" fill="#000"/>
<text x="271" y="251.5" font-size="8.6" font-family="Liberation Sans, sans-serif" font-weight="bold" textLength="33.3" lengthAdjust="spacingAndGlyphs">(NH<tspan font-size="6" dy="2">2</tspan><tspan dy="-2">R)</tspan><tspan font-size="6" dy="2.2">n</tspan></text>
<path d="M308.8,248.4 H315.2 M312,245.2 V251.7" stroke="#000" stroke-width="1.6"/>
<line x1="333.4" y1="248.6" x2="361.0" y2="248.6" stroke="#9a9a9a" stroke-width="0.9"/>
<radialGradient id="at21" cx="0.47" cy="0.45" r="0.55"><stop offset="0" stop-color="#ffffe8"/><stop offset="0.3" stop-color="#fcf8a0"/><stop offset="0.7" stop-color="#f4ec22"/><stop offset="1" stop-color="#c8b800"/></radialGradient>
<circle cx="333.4" cy="248.6" r="6.8" fill="url(#at21)"/>
<text x="333.4" y="251.0" font-size="6.8" font-family="Liberation Sans, sans-serif" font-weight="bold" fill="#111" text-anchor="middle">Na</text>
<radialGradient id="at22" cx="0.47" cy="0.45" r="0.55"><stop offset="0" stop-color="#fffff4"/><stop offset="0.3" stop-color="#fcfcd4"/><stop offset="0.7" stop-color="#f6f4a8"/><stop offset="1" stop-color="#e8e070"/></radialGradient>
<circle cx="361" cy="248.6" r="8" fill="url(#at22)"/>
<text x="361" y="250.9" font-size="6.5" font-family="Liberation Sans, sans-serif" font-weight="bold" fill="#333" text-anchor="middle">Cl</text>
<line x1="371" y1="235.2" x2="412.9" y2="194.4" stroke="#444" stroke-width="0.7"/>
<path d="M415.4,192.0 L413.4,196.4 L410.9,193.8Z" fill="#444"/>
<text x="457.2" y="252.5" font-size="8.3" font-family="Liberation Sans, sans-serif" font-weight="bold" textLength="40.6" lengthAdjust="spacingAndGlyphs">R=C<tspan font-size="6" dy="2">18</tspan><tspan dy="-2">H</tspan><tspan font-size="6" dy="2">35</tspan></text>
<text x="6.8" y="277" font-size="16" font-family="Liberation Serif, serif" font-weight="bold" fill="#000" text-anchor="start" >e)</text>
<path d="M20,283.6 V396.5 H168.8" fill="none" stroke="#888" stroke-width="1.1"/>
<line x1="23.1" y1="396.5" x2="23.1" y2="399" stroke="#888" stroke-width="0.8"/>
<text x="23.1" y="406.5" font-size="7.5" font-family="Liberation Sans, sans-serif" font-weight="normal" fill="#333" text-anchor="middle" >400</text>
<line x1="58.4" y1="396.5" x2="58.4" y2="399" stroke="#888" stroke-width="0.8"/>
<text x="58.4" y="406.5" font-size="7.5" font-family="Liberation Sans, sans-serif" font-weight="normal" fill="#333" text-anchor="middle" >500</text>
<line x1="93.7" y1="396.5" x2="93.7" y2="399" stroke="#888" stroke-width="0.8"/>
<text x="93.7" y="406.5" font-size="7.5" font-family="Liberation Sans, sans-serif" font-weight="normal" fill="#333" text-anchor="middle" >600</text>
<line x1="129.0" y1="396.5" x2="129.0" y2="399" stroke="#888" stroke-width="0.8"/>
<text x="129.0" y="406.5" font-size="7.5" font-family="Liberation Sans, sans-serif" font-weight="normal" fill="#333" text-anchor="middle" >700</text>
<line x1="164.3" y1="396.5" x2="164.3" y2="399" stroke="#888" stroke-width="0.8"/>
<text x="164.3" y="406.5" font-size="7.5" font-family="Liberation Sans, sans-serif" font-weight="normal" fill="#333" text-anchor="middle" >800</text>
<text x="93.5" y="418" font-size="8" font-family="Liberation Sans, sans-serif" font-weight="normal" fill="#333" text-anchor="middle" textLength="60" lengthAdjust="spacingAndGlyphs" >Wavelength (nm)</text>
<g transform="translate(10,350) rotate(-90)"><text x="0" y="0" font-size="8" font-family="Liberation Sans, sans-serif" fill="#444" textLength="29.5" lengthAdjust="spacingAndGlyphs">Intensity</text></g>
<line x1="27.4" y1="293.6" x2="45.3" y2="293.6" stroke="#0e8a36" stroke-width="1.6"/>
<text x="47.2" y="296.70000000000005" font-size="8.6" font-family="Liberation Sans, sans-serif" font-weight="normal" fill="#333" text-anchor="start" textLength="12.3" lengthAdjust="spacingAndGlyphs" >9 V</text>
<line x1="27.4" y1="303" x2="45.3" y2="303" stroke="#1f9a46" stroke-width="1.6"/>
<text x="47.2" y="306.1" font-size="8.6" font-family="Liberation Sans, sans-serif" font-weight="normal" fill="#333" text-anchor="start" textLength="12.3" lengthAdjust="spacingAndGlyphs" >8 V</text>
<line x1="27.4" y1="311.9" x2="45.3" y2="311.9" stroke="#55b56e" stroke-width="1.2"/>
<text x="47.2" y="315.0" font-size="8.6" font-family="Liberation Sans, sans-serif" font-weight="normal" fill="#333" text-anchor="start" textLength="12.3" lengthAdjust="spacingAndGlyphs" >7 V</text>
<line x1="27.4" y1="321.3" x2="45.3" y2="321.3" stroke="#86c996" stroke-width="1.2"/>
<text x="47.2" y="324.40000000000003" font-size="8.6" font-family="Liberation Sans, sans-serif" font-weight="normal" fill="#333" text-anchor="start" textLength="12.3" lengthAdjust="spacingAndGlyphs" >6 V</text>
<line x1="27.4" y1="330.8" x2="45.3" y2="330.8" stroke="#acdab5" stroke-width="1.2"/>
<text x="47.2" y="333.90000000000003" font-size="8.6" font-family="Liberation Sans, sans-serif" font-weight="normal" fill="#333" text-anchor="start" textLength="12.3" lengthAdjust="spacingAndGlyphs" >5 V</text>
<line x1="27.4" y1="340.2" x2="45.3" y2="340.2" stroke="#d2ebd5" stroke-width="1.2"/>
<text x="47.2" y="343.3" font-size="8.6" font-family="Liberation Sans, sans-serif" font-weight="normal" fill="#333" text-anchor="start" textLength="12.3" lengthAdjust="spacingAndGlyphs" >4 V</text>
<path d="M21.0,394.3 L21.7,394.5 L22.4,394.4 L23.1,394.6 L23.8,394.6 L24.5,394.2 L25.2,394.1 L25.9,394.8 L26.6,394.3 L27.3,394.3 L28.0,394.9 L28.7,394.5 L29.4,394.8 L30.1,394.5 L30.8,394.6 L31.5,394.2 L32.2,394.6 L32.9,394.8 L33.6,394.5 L34.3,394.7 L35.0,394.6 L35.7,394.2 L36.4,394.7 L37.1,394.6 L37.8,394.3 L38.5,394.1 L39.2,394.8 L39.9,394.5 L40.6,394.7 L41.3,394.8 L42.0,394.7 L42.7,394.8 L43.4,394.4 L44.1,394.7 L44.8,394.5 L45.5,394.8 L46.2,394.8 L46.9,394.2 L47.6,394.2 L48.3,394.3 L49.0,394.9 L49.7,394.4 L50.4,394.6 L51.1,394.3 L51.8,394.5 L52.5,394.4 L53.2,394.4 L53.9,394.6 L54.6,394.6 L55.3,394.5 L56.0,394.5 L56.7,394.5 L57.4,394.5 L58.1,394.5 L58.8,394.4 L59.5,394.4 L60.2,394.4 L60.9,394.3 L61.6,394.2 L62.3,394.1 L63.0,394.0 L63.7,393.9 L64.4,393.6 L65.1,393.4 L65.8,393.1 L66.5,392.7 L67.2,392.3 L67.9,391.8 L68.6,391.3 L69.3,390.8 L70.0,390.2 L70.7,389.6 L71.4,389.1 L72.1,388.6 L72.8,388.1 L73.5,387.8 L74.2,387.6 L74.9,387.4 L75.6,387.4 L76.3,387.5 L77.0,387.8 L77.7,388.1 L78.4,388.5 L79.1,389.0 L79.8,389.4 L80.5,389.9 L81.2,390.3 L81.9,390.7 L82.6,391.0 L83.3,391.4 L84.0,391.7 L84.7,391.9 L85.4,392.2 L86.1,392.4 L86.8,392.5 L87.5,392.7 L88.2,392.8 L88.9,393.0 L89.6,393.1 L90.3,393.2 L91.0,393.3 L91.7,393.4 L92.4,393.5 L93.1,393.5 L93.8,393.6 L94.5,393.6 L95.2,393.7 L95.9,393.7 L96.6,393.8 L97.3,393.8 L98.0,393.9 L98.7,393.9 L99.4,393.9 L100.1,394.0 L100.8,394.0 L101.5,394.0 L102.2,394.0 L102.9,394.1 L103.6,394.1 L104.3,394.1 L105.0,394.1 L105.7,394.1 L106.4,394.1 L107.1,394.2 L107.8,394.2 L108.5,394.2 L109.2,394.2 L109.9,394.2 L110.6,394.2 L111.3,394.2 L112.0,394.2 L112.7,394.3 L113.4,394.3 L114.1,394.3 L114.8,394.3 L115.5,394.3 L116.2,394.3 L116.9,394.3 L117.6,394.3 L118.3,394.3 L119.0,394.3 L119.7,394.3 L120.4,394.3 L121.1,394.3 L121.8,394.3 L122.5,394.3 L123.2,394.3 L123.9,394.4 L124.6,394.4 L125.3,394.4 L126.0,394.4 L126.7,394.4 L127.4,394.4 L128.1,394.4 L128.8,394.4 L129.5,394.4 L130.2,394.4 L130.9,394.4 L131.6,394.4 L132.3,394.4 L133.0,394.4 L133.7,394.4 L134.4,394.4 L135.1,394.4 L135.8,394.4 L136.5,394.4 L137.2,394.4 L137.9,394.4 L138.6,394.4 L139.3,394.4 L140.0,394.4 L140.7,394.4 L141.4,394.4 L142.1,394.4 L142.8,394.4 L143.5,394.4 L144.2,394.4 L144.9,394.4 L145.6,394.4 L146.3,394.4 L147.0,394.4 L147.7,394.4 L148.4,394.4 L149.1,394.4 L149.8,394.4 L150.5,394.4 L151.2,394.4 L151.9,394.4 L152.6,394.4 L153.3,394.4 L154.0,394.4 L154.7,394.4 L155.4,394.4 L156.1,394.4 L156.8,394.4 L157.5,394.4 L158.2,394.4 L158.9,394.4 L159.6,394.4 L160.3,394.5 L161.0,394.5 L161.7,394.5 L162.4,394.5 L163.1,394.5 L163.8,394.5 L164.5,394.5 L165.2,394.5 L165.9,394.5 L166.6,394.5 L167.3,394.5 L168.0,394.5" fill="none" stroke="#d2ebd5" stroke-width="1.1"/>
<path d="M21.0,394.8 L21.7,394.6 L22.4,394.8 L23.1,394.8 L23.8,394.9 L24.5,394.6 L25.2,394.2 L25.9,394.8 L26.6,394.9 L27.3,394.8 L28.0,394.6 L28.7,394.7 L29.4,394.3 L30.1,394.8 L30.8,394.6 L31.5,394.3 L32.2,394.2 L32.9,394.8 L33.6,394.9 L34.3,394.2 L35.0,394.7 L35.7,394.4 L36.4,394.2 L37.1,394.3 L37.8,394.7 L38.5,394.8 L39.2,394.1 L39.9,394.6 L40.6,394.1 L41.3,394.7 L42.0,394.4 L42.7,394.8 L43.4,394.9 L44.1,394.5 L44.8,394.9 L45.5,394.3 L46.2,394.2 L46.9,394.6 L47.6,394.1 L48.3,394.3 L49.0,394.4 L49.7,394.6 L50.4,394.2 L51.1,394.1 L51.8,394.8 L52.5,394.3 L53.2,394.9 L53.9,394.8 L54.6,394.4 L55.3,394.5 L56.0,394.5 L56.7,394.5 L57.4,394.4 L58.1,394.4 L58.8,394.3 L59.5,394.3 L60.2,394.2 L60.9,394.0 L61.6,393.8 L62.3,393.6 L63.0,393.2 L63.7,392.7 L64.4,392.2 L65.1,391.5 L65.8,390.6 L66.5,389.7 L67.2,388.5 L67.9,387.3 L68.6,385.9 L69.3,384.4 L70.0,382.9 L70.7,381.3 L71.4,379.9 L72.1,378.5 L72.8,377.3 L73.5,376.4 L74.2,375.7 L74.9,375.4 L75.6,375.3 L76.3,375.7 L77.0,376.3 L77.7,377.3 L78.4,378.4 L79.1,379.6 L79.8,380.8 L80.5,382.0 L81.2,383.1 L81.9,384.2 L82.6,385.2 L83.3,386.0 L84.0,386.8 L84.7,387.5 L85.4,388.1 L86.1,388.7 L86.8,389.2 L87.5,389.6 L88.2,390.0 L88.9,390.4 L89.6,390.7 L90.3,391.0 L91.0,391.2 L91.7,391.5 L92.4,391.7 L93.1,391.9 L93.8,392.0 L94.5,392.2 L95.2,392.3 L95.9,392.5 L96.6,392.6 L97.3,392.7 L98.0,392.8 L98.7,392.9 L99.4,393.0 L100.1,393.0 L100.8,393.1 L101.5,393.2 L102.2,393.2 L102.9,393.3 L103.6,393.4 L104.3,393.4 L105.0,393.5 L105.7,393.5 L106.4,393.5 L107.1,393.6 L107.8,393.6 L108.5,393.7 L109.2,393.7 L109.9,393.7 L110.6,393.8 L111.3,393.8 L112.0,393.8 L112.7,393.8 L113.4,393.9 L114.1,393.9 L114.8,393.9 L115.5,393.9 L116.2,393.9 L116.9,394.0 L117.6,394.0 L118.3,394.0 L119.0,394.0 L119.7,394.0 L120.4,394.0 L121.1,394.0 L121.8,394.1 L122.5,394.1 L123.2,394.1 L123.9,394.1 L124.6,394.1 L125.3,394.1 L126.0,394.1 L126.7,394.1 L127.4,394.1 L128.1,394.2 L128.8,394.2 L129.5,394.2 L130.2,394.2 L130.9,394.2 L131.6,394.2 L132.3,394.2 L133.0,394.2 L133.7,394.2 L134.4,394.2 L135.1,394.2 L135.8,394.2 L136.5,394.2 L137.2,394.3 L137.9,394.3 L138.6,394.3 L139.3,394.3 L140.0,394.3 L140.7,394.3 L141.4,394.3 L142.1,394.3 L142.8,394.3 L143.5,394.3 L144.2,394.3 L144.9,394.3 L145.6,394.3 L146.3,394.3 L147.0,394.3 L147.7,394.3 L148.4,394.3 L149.1,394.3 L149.8,394.3 L150.5,394.3 L151.2,394.3 L151.9,394.3 L152.6,394.3 L153.3,394.3 L154.0,394.3 L154.7,394.3 L155.4,394.4 L156.1,394.4 L156.8,394.4 L157.5,394.4 L158.2,394.4 L158.9,394.4 L159.6,394.4 L160.3,394.4 L161.0,394.4 L161.7,394.4 L162.4,394.4 L163.1,394.4 L163.8,394.4 L164.5,394.4 L165.2,394.4 L165.9,394.4 L166.6,394.4 L167.3,394.4 L168.0,394.4" fill="none" stroke="#acdab5" stroke-width="1.1"/>
<path d="M21.0,394.5 L21.7,394.5 L22.4,394.6 L23.1,394.6 L23.8,394.5 L24.5,394.6 L25.2,394.9 L25.9,394.5 L26.6,394.4 L27.3,394.7 L28.0,394.3 L28.7,394.3 L29.4,394.9 L30.1,394.5 L30.8,394.5 L31.5,394.1 L32.2,394.4 L32.9,394.6 L33.6,394.1 L34.3,394.6 L35.0,394.6 L35.7,394.1 L36.4,394.6 L37.1,394.5 L37.8,394.6 L38.5,394.4 L39.2,394.7 L39.9,394.7 L40.6,394.1 L41.3,394.1 L42.0,394.6 L42.7,394.9 L43.4,394.3 L44.1,394.5 L44.8,394.6 L45.5,394.4 L46.2,394.4 L46.9,394.4 L47.6,394.4 L48.3,394.6 L49.0,394.3 L49.7,394.4 L50.4,394.7 L51.1,394.1 L51.8,394.6 L52.5,394.7 L53.2,394.3 L53.9,394.3 L54.6,394.7 L55.3,394.5 L56.0,394.4 L56.7,394.4 L57.4,394.4 L58.1,394.3 L58.8,394.2 L59.5,394.0 L60.2,393.8 L60.9,393.5 L61.6,393.0 L62.3,392.4 L63.0,391.7 L63.7,390.7 L64.4,389.5 L65.1,388.0 L65.8,386.2 L66.5,384.0 L67.2,381.6 L67.9,378.8 L68.6,375.8 L69.3,372.6 L70.0,369.3 L70.7,366.0 L71.4,362.8 L72.1,359.8 L72.8,357.3 L73.5,355.2 L74.2,353.8 L74.9,353.0 L75.6,353.0 L76.3,353.7 L77.0,355.2 L77.7,357.2 L78.4,359.6 L79.1,362.2 L79.8,364.8 L80.5,367.4 L81.2,369.9 L81.9,372.2 L82.6,374.3 L83.3,376.2 L84.0,377.9 L84.7,379.4 L85.4,380.7 L86.1,381.9 L86.8,383.0 L87.5,384.0 L88.2,384.8 L88.9,385.6 L89.6,386.3 L90.3,386.9 L91.0,387.4 L91.7,387.9 L92.4,388.4 L93.1,388.8 L93.8,389.2 L94.5,389.5 L95.2,389.8 L95.9,390.1 L96.6,390.3 L97.3,390.6 L98.0,390.8 L98.7,391.0 L99.4,391.2 L100.1,391.3 L100.8,391.5 L101.5,391.7 L102.2,391.8 L102.9,391.9 L103.6,392.0 L104.3,392.1 L105.0,392.3 L105.7,392.3 L106.4,392.4 L107.1,392.5 L107.8,392.6 L108.5,392.7 L109.2,392.8 L109.9,392.8 L110.6,392.9 L111.3,392.9 L112.0,393.0 L112.7,393.1 L113.4,393.1 L114.1,393.2 L114.8,393.2 L115.5,393.2 L116.2,393.3 L116.9,393.3 L117.6,393.4 L118.3,393.4 L119.0,393.4 L119.7,393.5 L120.4,393.5 L121.1,393.5 L121.8,393.6 L122.5,393.6 L123.2,393.6 L123.9,393.6 L124.6,393.7 L125.3,393.7 L126.0,393.7 L126.7,393.7 L127.4,393.7 L128.1,393.8 L128.8,393.8 L129.5,393.8 L130.2,393.8 L130.9,393.8 L131.6,393.8 L132.3,393.9 L133.0,393.9 L133.7,393.9 L134.4,393.9 L135.1,393.9 L135.8,393.9 L136.5,393.9 L137.2,394.0 L137.9,394.0 L138.6,394.0 L139.3,394.0 L140.0,394.0 L140.7,394.0 L141.4,394.0 L142.1,394.0 L142.8,394.0 L143.5,394.1 L144.2,394.1 L144.9,394.1 L145.6,394.1 L146.3,394.1 L147.0,394.1 L147.7,394.1 L148.4,394.1 L149.1,394.1 L149.8,394.1 L150.5,394.1 L151.2,394.1 L151.9,394.1 L152.6,394.2 L153.3,394.2 L154.0,394.2 L154.7,394.2 L155.4,394.2 L156.1,394.2 L156.8,394.2 L157.5,394.2 L158.2,394.2 L158.9,394.2 L159.6,394.2 L160.3,394.2 L161.0,394.2 L161.7,394.2 L162.4,394.2 L163.1,394.2 L163.8,394.2 L164.5,394.2 L165.2,394.2 L165.9,394.2 L166.6,394.2 L167.3,394.3 L168.0,394.3" fill="none" stroke="#86c996" stroke-width="1.1"/>
<path d="M21.0,394.3 L21.7,394.2 L22.4,394.4 L23.1,394.7 L23.8,394.2 L24.5,394.4 L25.2,394.4 L25.9,394.8 L26.6,394.5 L27.3,394.8 L28.0,394.2 L28.7,394.4 L29.4,394.6 L30.1,394.8 L30.8,394.5 L31.5,394.3 L32.2,394.2 L32.9,394.5 L33.6,394.3 L34.3,394.7 L35.0,394.8 L35.7,394.2 L36.4,394.3 L37.1,394.7 L37.8,394.6 L38.5,394.7 L39.2,394.4 L39.9,394.2 L40.6,394.3 L41.3,394.7 L42.0,394.3 L42.7,394.4 L43.4,394.4 L44.1,394.4 L44.8,394.4 L45.5,394.8 L46.2,394.2 L46.9,394.1 L47.6,394.9 L48.3,394.8 L49.0,394.9 L49.7,394.4 L50.4,394.9 L51.1,394.8 L51.8,394.3 L52.5,394.7 L53.2,394.8 L53.9,394.6 L54.6,394.5 L55.3,394.4 L56.0,394.4 L56.7,394.4 L57.4,394.3 L58.1,394.2 L58.8,394.0 L59.5,393.7 L60.2,393.4 L60.9,392.9 L61.6,392.2 L62.3,391.2 L63.0,390.0 L63.7,388.5 L64.4,386.5 L65.1,384.2 L65.8,381.3 L66.5,377.9 L67.2,374.0 L67.9,369.6 L68.6,364.9 L69.3,359.8 L70.0,354.5 L70.7,349.3 L71.4,344.2 L72.1,339.6 L72.8,335.5 L73.5,332.3 L74.2,330.0 L74.9,328.8 L75.6,328.7 L76.3,329.9 L77.0,332.2 L77.7,335.4 L78.4,339.2 L79.1,343.3 L79.8,347.5 L80.5,351.6 L81.2,355.5 L81.9,359.1 L82.6,362.5 L83.3,365.5 L84.0,368.2 L84.7,370.6 L85.4,372.7 L86.1,374.6 L86.8,376.3 L87.5,377.8 L88.2,379.2 L88.9,380.4 L89.6,381.5 L90.3,382.4 L91.0,383.3 L91.7,384.1 L92.4,384.8 L93.1,385.5 L93.8,386.0 L94.5,386.6 L95.2,387.1 L95.9,387.5 L96.6,387.9 L97.3,388.3 L98.0,388.6 L98.7,388.9 L99.4,389.2 L100.1,389.5 L100.8,389.8 L101.5,390.0 L102.2,390.2 L102.9,390.4 L103.6,390.6 L104.3,390.8 L105.0,390.9 L105.7,391.1 L106.4,391.2 L107.1,391.4 L107.8,391.5 L108.5,391.6 L109.2,391.7 L109.9,391.8 L110.6,391.9 L111.3,392.0 L112.0,392.1 L112.7,392.2 L113.4,392.3 L114.1,392.4 L114.8,392.4 L115.5,392.5 L116.2,392.6 L116.9,392.6 L117.6,392.7 L118.3,392.8 L119.0,392.8 L119.7,392.9 L120.4,392.9 L121.1,393.0 L121.8,393.0 L122.5,393.0 L123.2,393.1 L123.9,393.1 L124.6,393.2 L125.3,393.2 L126.0,393.2 L126.7,393.3 L127.4,393.3 L128.1,393.3 L128.8,393.4 L129.5,393.4 L130.2,393.4 L130.9,393.4 L131.6,393.5 L132.3,393.5 L133.0,393.5 L133.7,393.5 L134.4,393.6 L135.1,393.6 L135.8,393.6 L136.5,393.6 L137.2,393.6 L137.9,393.7 L138.6,393.7 L139.3,393.7 L140.0,393.7 L140.7,393.7 L141.4,393.7 L142.1,393.8 L142.8,393.8 L143.5,393.8 L144.2,393.8 L144.9,393.8 L145.6,393.8 L146.3,393.8 L147.0,393.9 L147.7,393.9 L148.4,393.9 L149.1,393.9 L149.8,393.9 L150.5,393.9 L151.2,393.9 L151.9,393.9 L152.6,393.9 L153.3,394.0 L154.0,394.0 L154.7,394.0 L155.4,394.0 L156.1,394.0 L156.8,394.0 L157.5,394.0 L158.2,394.0 L158.9,394.0 L159.6,394.0 L160.3,394.0 L161.0,394.1 L161.7,394.1 L162.4,394.1 L163.1,394.1 L163.8,394.1 L164.5,394.1 L165.2,394.1 L165.9,394.1 L166.6,394.1 L167.3,394.1 L168.0,394.1" fill="none" stroke="#55b56e" stroke-width="1.1"/>
<path d="M21.0,394.3 L21.7,394.4 L22.4,394.3 L23.1,394.2 L23.8,394.6 L24.5,394.3 L25.2,394.7 L25.9,394.1 L26.6,394.8 L27.3,394.7 L28.0,394.8 L28.7,394.8 L29.4,394.8 L30.1,394.6 L30.8,394.1 L31.5,394.7 L32.2,394.2 L32.9,394.3 L33.6,394.6 L34.3,394.5 L35.0,394.4 L35.7,394.9 L36.4,394.6 L37.1,394.4 L37.8,394.3 L38.5,394.8 L39.2,394.5 L39.9,394.7 L40.6,394.4 L41.3,394.3 L42.0,394.5 L42.7,394.8 L43.4,394.2 L44.1,394.7 L44.8,394.8 L45.5,394.7 L46.2,394.8 L46.9,394.1 L47.6,394.6 L48.3,394.8 L49.0,394.1 L49.7,394.3 L50.4,394.3 L51.1,394.5 L51.8,394.4 L52.5,394.5 L53.2,394.7 L53.9,394.1 L54.6,394.1 L55.3,394.4 L56.0,394.4 L56.7,394.3 L57.4,394.2 L58.1,394.1 L58.8,393.8 L59.5,393.5 L60.2,393.0 L60.9,392.4 L61.6,391.5 L62.3,390.3 L63.0,388.8 L63.7,386.8 L64.4,384.3 L65.1,381.2 L65.8,377.5 L66.5,373.1 L67.2,368.1 L67.9,362.5 L68.6,356.4 L69.3,349.8 L70.0,343.1 L70.7,336.3 L71.4,329.8 L72.1,323.8 L72.8,318.6 L73.5,314.5 L74.2,311.5 L74.9,309.9 L75.6,309.9 L76.3,311.3 L77.0,314.3 L77.7,318.4 L78.4,323.3 L79.1,328.6 L79.8,334.0 L80.5,339.3 L81.2,344.3 L81.9,349.0 L82.6,353.3 L83.3,357.1 L84.0,360.6 L84.7,363.7 L85.4,366.5 L86.1,368.9 L86.8,371.1 L87.5,373.0 L88.2,374.8 L88.9,376.3 L89.6,377.7 L90.3,379.0 L91.0,380.1 L91.7,381.1 L92.4,382.0 L93.1,382.9 L93.8,383.6 L94.5,384.3 L95.2,384.9 L95.9,385.5 L96.6,386.0 L97.3,386.5 L98.0,386.9 L98.7,387.4 L99.4,387.7 L100.1,388.1 L100.8,388.4 L101.5,388.7 L102.2,389.0 L102.9,389.2 L103.6,389.5 L104.3,389.7 L105.0,389.9 L105.7,390.1 L106.4,390.3 L107.1,390.5 L107.8,390.6 L108.5,390.8 L109.2,390.9 L109.9,391.1 L110.6,391.2 L111.3,391.3 L112.0,391.4 L112.7,391.6 L113.4,391.7 L114.1,391.8 L114.8,391.8 L115.5,391.9 L116.2,392.0 L116.9,392.1 L117.6,392.2 L118.3,392.2 L119.0,392.3 L119.7,392.4 L120.4,392.4 L121.1,392.5 L121.8,392.6 L122.5,392.6 L123.2,392.7 L123.9,392.7 L124.6,392.8 L125.3,392.8 L126.0,392.9 L126.7,392.9 L127.4,393.0 L128.1,393.0 L128.8,393.0 L129.5,393.1 L130.2,393.1 L130.9,393.1 L131.6,393.2 L132.3,393.2 L133.0,393.2 L133.7,393.3 L134.4,393.3 L135.1,393.3 L135.8,393.3 L136.5,393.4 L137.2,393.4 L137.9,393.4 L138.6,393.4 L139.3,393.5 L140.0,393.5 L140.7,393.5 L141.4,393.5 L142.1,393.6 L142.8,393.6 L143.5,393.6 L144.2,393.6 L144.9,393.6 L145.6,393.6 L146.3,393.7 L147.0,393.7 L147.7,393.7 L148.4,393.7 L149.1,393.7 L149.8,393.7 L150.5,393.8 L151.2,393.8 L151.9,393.8 L152.6,393.8 L153.3,393.8 L154.0,393.8 L154.7,393.8 L155.4,393.8 L156.1,393.9 L156.8,393.9 L157.5,393.9 L158.2,393.9 L158.9,393.9 L159.6,393.9 L160.3,393.9 L161.0,393.9 L161.7,393.9 L162.4,393.9 L163.1,393.9 L163.8,394.0 L164.5,394.0 L165.2,394.0 L165.9,394.0 L166.6,394.0 L167.3,394.0 L168.0,394.0" fill="none" stroke="#1f9a46" stroke-width="1.5"/>
<path d="M21.0,394.2 L21.7,394.2 L22.4,394.2 L23.1,394.9 L23.8,394.8 L24.5,394.2 L25.2,394.5 L25.9,394.4 L26.6,394.4 L27.3,394.4 L28.0,394.6 L28.7,394.6 L29.4,394.4 L30.1,394.3 L30.8,394.4 L31.5,394.2 L32.2,394.5 L32.9,394.7 L33.6,394.4 L34.3,394.2 L35.0,394.2 L35.7,394.4 L36.4,394.6 L37.1,394.7 L37.8,394.4 L38.5,394.7 L39.2,394.6 L39.9,394.4 L40.6,394.4 L41.3,394.5 L42.0,394.7 L42.7,394.4 L43.4,394.7 L44.1,394.5 L44.8,394.3 L45.5,394.5 L46.2,394.7 L46.9,394.2 L47.6,394.4 L48.3,394.4 L49.0,394.8 L49.7,394.8 L50.4,394.4 L51.1,394.8 L51.8,394.7 L52.5,394.3 L53.2,394.5 L53.9,394.2 L54.6,394.7 L55.3,394.4 L56.0,394.4 L56.7,394.3 L57.4,394.1 L58.1,393.9 L58.8,393.7 L59.5,393.2 L60.2,392.6 L60.9,391.8 L61.6,390.7 L62.3,389.2 L63.0,387.2 L63.7,384.7 L64.4,381.5 L65.1,377.6 L65.8,373.0 L66.5,367.4 L67.2,361.1 L67.9,354.0 L68.6,346.2 L69.3,337.9 L70.0,329.4 L70.7,320.8 L71.4,312.6 L72.1,305.0 L72.8,298.4 L73.5,293.1 L74.2,289.4 L74.9,287.4 L75.6,287.3 L76.3,289.2 L77.0,292.9 L77.7,298.1 L78.4,304.3 L79.1,311.0 L79.8,317.9 L80.5,324.6 L81.2,331.0 L81.9,336.9 L82.6,342.3 L83.3,347.2 L84.0,351.6 L84.7,355.5 L85.4,359.0 L86.1,362.1 L86.8,364.9 L87.5,367.3 L88.2,369.5 L88.9,371.5 L89.6,373.3 L90.3,374.8 L91.0,376.3 L91.7,377.5 L92.4,378.7 L93.1,379.8 L93.8,380.7 L94.5,381.6 L95.2,382.4 L95.9,383.1 L96.6,383.8 L97.3,384.4 L98.0,384.9 L98.7,385.4 L99.4,385.9 L100.1,386.4 L100.8,386.8 L101.5,387.2 L102.2,387.5 L102.9,387.8 L103.6,388.1 L104.3,388.4 L105.0,388.7 L105.7,388.9 L106.4,389.2 L107.1,389.4 L107.8,389.6 L108.5,389.8 L109.2,390.0 L109.9,390.2 L110.6,390.3 L111.3,390.5 L112.0,390.6 L112.7,390.8 L113.4,390.9 L114.1,391.0 L114.8,391.1 L115.5,391.3 L116.2,391.4 L116.9,391.5 L117.6,391.6 L118.3,391.6 L119.0,391.7 L119.7,391.8 L120.4,391.9 L121.1,392.0 L121.8,392.1 L122.5,392.1 L123.2,392.2 L123.9,392.3 L124.6,392.3 L125.3,392.4 L126.0,392.4 L126.7,392.5 L127.4,392.5 L128.1,392.6 L128.8,392.6 L129.5,392.7 L130.2,392.7 L130.9,392.8 L131.6,392.8 L132.3,392.9 L133.0,392.9 L133.7,392.9 L134.4,393.0 L135.1,393.0 L135.8,393.0 L136.5,393.1 L137.2,393.1 L137.9,393.1 L138.6,393.2 L139.3,393.2 L140.0,393.2 L140.7,393.2 L141.4,393.3 L142.1,393.3 L142.8,393.3 L143.5,393.3 L144.2,393.4 L144.9,393.4 L145.6,393.4 L146.3,393.4 L147.0,393.5 L147.7,393.5 L148.4,393.5 L149.1,393.5 L149.8,393.5 L150.5,393.6 L151.2,393.6 L151.9,393.6 L152.6,393.6 L153.3,393.6 L154.0,393.6 L154.7,393.6 L155.4,393.7 L156.1,393.7 L156.8,393.7 L157.5,393.7 L158.2,393.7 L158.9,393.7 L159.6,393.7 L160.3,393.8 L161.0,393.8 L161.7,393.8 L162.4,393.8 L163.1,393.8 L163.8,393.8 L164.5,393.8 L165.2,393.8 L165.9,393.8 L166.6,393.9 L167.3,393.9 L168.0,393.9" fill="none" stroke="#0e8a36" stroke-width="1.5"/>
<rect x="104.1" y="298.9" width="50.3" height="47.3" fill="#083a0a"/>
<rect x="105.5" y="300.5" width="47.5" height="44" fill="none" stroke="#1a8a1e" stroke-width="1.4"/>
<rect x="108.5" y="304" width="3" height="30" fill="#127a16"/>
<rect x="114.3" y="307.3" width="35.6" height="26.6" rx="2.5" fill="#1a8a1e" stroke="#3ee042" stroke-width="1.4"/>
<rect x="117.5" y="311" width="29" height="19.5" rx="1.5" fill="#22a826"/>
<rect x="117.5" y="312.2" width="19.5" height="4.2" fill="#2cc030"/>
<rect x="117.5" y="319.3" width="19.5" height="4" fill="#2cc030"/>
<rect x="117.5" y="325.5" width="19.5" height="4" fill="#2cc030"/>
<rect x="117.5" y="312.2" width="2" height="17.3" fill="#0a4a0c"/>
<rect x="128.2" y="319.8" width="8.7" height="3.2" fill="#064a08"/>
<rect x="128.2" y="326" width="8.7" height="3.2" fill="#064a08"/>
<rect x="128.2" y="313.6" width="8.7" height="4.1" fill="#f4fff0"/>
<rect x="107" y="336.3" width="44" height="5" fill="#1e9a22"/>
<rect x="109" y="342" width="40" height="2" fill="#0a3a0c"/>
<rect x="104" y="351" width="51.1" height="29.9" fill="#040804"/>
<rect x="108.9" y="355" width="41.1" height="21.4" fill="#1ef01e"/>
<text x="167" y="278" font-size="16" font-family="Liberation Serif, serif" font-weight="bold" fill="#000" text-anchor="start" >f)</text>
<rect x="187.8" y="273.5" width="91.2" height="119.7" fill="none" stroke="#777" stroke-width="1"/>
<text x="198.7" y="401" font-size="7" font-family="Liberation Serif, serif" font-weight="bold" fill="#222" text-anchor="middle" >400</text>
<line x1="198.7" y1="393.2" x2="198.7" y2="391" stroke="#777" stroke-width="0.7"/>
<text x="221.6" y="401" font-size="7" font-family="Liberation Serif, serif" font-weight="bold" fill="#222" text-anchor="middle" >500</text>
<line x1="221.6" y1="393.2" x2="221.6" y2="391" stroke="#777" stroke-width="0.7"/>
<text x="244.5" y="401" font-size="7" font-family="Liberation Serif, serif" font-weight="bold" fill="#222" text-anchor="middle" >600</text>
<line x1="244.5" y1="393.2" x2="244.5" y2="391" stroke="#777" stroke-width="0.7"/>
<text x="267.4" y="401" font-size="7" font-family="Liberation Serif, serif" font-weight="bold" fill="#222" text-anchor="middle" >700</text>
<line x1="267.4" y1="393.2" x2="267.4" y2="391" stroke="#777" stroke-width="0.7"/>
<text x="233.5" y="412" font-size="8" font-family="Liberation Serif, serif" font-weight="bold" fill="#111" text-anchor="middle" textLength="58" lengthAdjust="spacingAndGlyphs" >Wavelength (nm)</text>
<g transform="translate(180.5,364.3) rotate(-90)"><text x="0" y="0" font-size="8" font-family="Liberation Serif, serif" font-weight="bold" fill="#111" textLength="51" lengthAdjust="spacingAndGlyphs">Normalized EL</text></g>
<path d="M188.3,301.2 L188.8,301.2 L189.3,301.2 L189.8,301.2 L190.3,301.2 L190.8,301.2 L191.3,301.2 L191.8,301.2 L192.3,301.2 L192.8,301.2 L193.3,301.2 L193.8,301.2 L194.3,301.2 L194.8,301.2 L195.3,301.2 L195.8,301.2 L196.3,301.2 L196.8,301.2 L197.3,301.2 L197.8,301.1 L198.3,301.1 L198.8,301.1 L199.3,301.1 L199.8,301.0 L200.3,301.0 L200.8,301.0 L201.3,300.9 L201.8,300.8 L202.3,300.7 L202.8,300.6 L203.3,300.4 L203.8,300.3 L204.3,300.1 L204.8,299.8 L205.3,299.6 L205.8,299.2 L206.3,298.9 L206.8,298.4 L207.3,298.0 L207.8,297.4 L208.3,296.8 L208.8,296.1 L209.3,295.4 L209.8,294.6 L210.3,293.8 L210.8,292.8 L211.3,291.9 L211.8,290.8 L212.3,289.8 L212.8,288.7 L213.3,287.6 L213.8,286.5 L214.3,285.4 L214.8,284.3 L215.3,283.2 L215.8,282.2 L216.3,281.3 L216.8,280.5 L217.3,279.8 L217.8,279.1 L218.3,278.6 L218.8,278.3 L219.3,278.1 L219.8,278.0 L220.3,278.1 L220.8,278.4 L221.3,278.8 L221.8,279.4 L222.3,280.1 L222.8,280.9 L223.3,281.7 L223.8,282.6 L224.3,283.6 L224.8,284.5 L225.3,285.4 L225.8,286.4 L226.3,287.2 L226.8,288.1 L227.3,288.9 L227.8,289.6 L228.3,290.3 L228.8,291.0 L229.3,291.6 L229.8,292.1 L230.3,292.7 L230.8,293.2 L231.3,293.6 L231.8,294.1 L232.3,294.5 L232.8,294.8 L233.3,295.2 L233.8,295.5 L234.3,295.8 L234.8,296.1 L235.3,296.3 L235.8,296.6 L236.3,296.8 L236.8,297.0 L237.3,297.2 L237.8,297.4 L238.3,297.5 L238.8,297.7 L239.3,297.9 L239.8,298.0 L240.3,298.1 L240.8,298.3 L241.3,298.4 L241.8,298.5 L242.3,298.6 L242.8,298.7 L243.3,298.8 L243.8,298.9 L244.3,299.0 L244.8,299.0 L245.3,299.1 L245.8,299.2 L246.3,299.3 L246.8,299.3 L247.3,299.4 L247.8,299.4 L248.3,299.5 L248.8,299.6 L249.3,299.6 L249.8,299.7 L250.3,299.7 L250.8,299.8 L251.3,299.8 L251.8,299.8 L252.3,299.9 L252.8,299.9 L253.3,299.9 L253.8,300.0 L254.3,300.0 L254.8,300.0 L255.3,300.1 L255.8,300.1 L256.3,300.1 L256.8,300.2 L257.3,300.2 L257.8,300.2 L258.3,300.2 L258.8,300.3 L259.3,300.3 L259.8,300.3 L260.3,300.3 L260.8,300.3 L261.3,300.4 L261.8,300.4 L262.3,300.4 L262.8,300.4 L263.3,300.4 L263.8,300.5 L264.3,300.5 L264.8,300.5 L265.3,300.5 L265.8,300.5 L266.3,300.5 L266.8,300.5 L267.3,300.6 L267.8,300.6 L268.3,300.6 L268.8,300.6 L269.3,300.6 L269.8,300.6 L270.3,300.6 L270.8,300.6 L271.3,300.7 L271.8,300.7 L272.3,300.7 L272.8,300.7 L273.3,300.7 L273.8,300.7 L274.3,300.7 L274.8,300.7 L275.3,300.7 L275.8,300.7 L276.3,300.7 L276.8,300.8 L277.3,300.8 L277.8,300.8 L278.3,300.8" fill="none" stroke="#f040e0" stroke-width="1.3"/>
<text x="275" y="299.7" font-size="7.5" font-family="Liberation Sans, sans-serif" font-weight="bold" fill="#111" text-anchor="end" textLength="10.5" lengthAdjust="spacingAndGlyphs" >8 V</text>
<path d="M188.3,319.3 L188.8,319.3 L189.3,319.3 L189.8,319.3 L190.3,319.3 L190.8,319.3 L191.3,319.3 L191.8,319.3 L192.3,319.3 L192.8,319.3 L193.3,319.3 L193.8,319.3 L194.3,319.3 L194.8,319.3 L195.3,319.3 L195.8,319.3 L196.3,319.3 L196.8,319.3 L197.3,319.3 L197.8,319.2 L198.3,319.2 L198.8,319.2 L199.3,319.2 L199.8,319.1 L200.3,319.1 L200.8,319.1 L201.3,319.0 L201.8,318.9 L202.3,318.8 L202.8,318.7 L203.3,318.5 L203.8,318.4 L204.3,318.2 L204.8,317.9 L205.3,317.7 L205.8,317.3 L206.3,317.0 L206.8,316.5 L207.3,316.1 L207.8,315.5 L208.3,314.9 L208.8,314.2 L209.3,313.5 L209.8,312.7 L210.3,311.9 L210.8,310.9 L211.3,310.0 L211.8,308.9 L212.3,307.9 L212.8,306.8 L213.3,305.7 L213.8,304.6 L214.3,303.5 L214.8,302.4 L215.3,301.3 L215.8,300.3 L216.3,299.4 L216.8,298.6 L217.3,297.9 L217.8,297.2 L218.3,296.7 L218.8,296.4 L219.3,296.2 L219.8,296.1 L220.3,296.2 L220.8,296.5 L221.3,296.9 L221.8,297.5 L222.3,298.2 L222.8,299.0 L223.3,299.8 L223.8,300.7 L224.3,301.7 L224.8,302.6 L225.3,303.5 L225.8,304.5 L226.3,305.3 L226.8,306.2 L227.3,307.0 L227.8,307.7 L228.3,308.4 L228.8,309.1 L229.3,309.7 L229.8,310.2 L230.3,310.8 L230.8,311.3 L231.3,311.7 L231.8,312.2 L232.3,312.6 L232.8,312.9 L233.3,313.3 L233.8,313.6 L234.3,313.9 L234.8,314.2 L235.3,314.4 L235.8,314.7 L236.3,314.9 L236.8,315.1 L237.3,315.3 L237.8,315.5 L238.3,315.6 L238.8,315.8 L239.3,316.0 L239.8,316.1 L240.3,316.2 L240.8,316.4 L241.3,316.5 L241.8,316.6 L242.3,316.7 L242.8,316.8 L243.3,316.9 L243.8,317.0 L244.3,317.1 L244.8,317.1 L245.3,317.2 L245.8,317.3 L246.3,317.4 L246.8,317.4 L247.3,317.5 L247.8,317.5 L248.3,317.6 L248.8,317.7 L249.3,317.7 L249.8,317.8 L250.3,317.8 L250.8,317.9 L251.3,317.9 L251.8,317.9 L252.3,318.0 L252.8,318.0 L253.3,318.0 L253.8,318.1 L254.3,318.1 L254.8,318.1 L255.3,318.2 L255.8,318.2 L256.3,318.2 L256.8,318.3 L257.3,318.3 L257.8,318.3 L258.3,318.3 L258.8,318.4 L259.3,318.4 L259.8,318.4 L260.3,318.4 L260.8,318.4 L261.3,318.5 L261.8,318.5 L262.3,318.5 L262.8,318.5 L263.3,318.5 L263.8,318.6 L264.3,318.6 L264.8,318.6 L265.3,318.6 L265.8,318.6 L266.3,318.6 L266.8,318.6 L267.3,318.7 L267.8,318.7 L268.3,318.7 L268.8,318.7 L269.3,318.7 L269.8,318.7 L270.3,318.7 L270.8,318.7 L271.3,318.8 L271.8,318.8 L272.3,318.8 L272.8,318.8 L273.3,318.8 L273.8,318.8 L274.3,318.8 L274.8,318.8 L275.3,318.8 L275.8,318.8 L276.3,318.8 L276.8,318.9 L277.3,318.9 L277.8,318.9 L278.3,318.9" fill="none" stroke="#20e0e0" stroke-width="1.3"/>
<text x="275" y="317.8" font-size="7.5" font-family="Liberation Sans, sans-serif" font-weight="bold" fill="#111" text-anchor="end" textLength="10.5" lengthAdjust="spacingAndGlyphs" >7 V</text>
<path d="M188.3,337.8 L188.8,337.8 L189.3,337.8 L189.8,337.8 L190.3,337.8 L190.8,337.8 L191.3,337.8 L191.8,337.8 L192.3,337.8 L192.8,337.8 L193.3,337.8 L193.8,337.8 L194.3,337.8 L194.8,337.8 L195.3,337.8 L195.8,337.8 L196.3,337.8 L196.8,337.8 L197.3,337.8 L197.8,337.7 L198.3,337.7 L198.8,337.7 L199.3,337.7 L199.8,337.6 L200.3,337.6 L200.8,337.6 L201.3,337.5 L201.8,337.4 L202.3,337.3 L202.8,337.2 L203.3,337.0 L203.8,336.9 L204.3,336.7 L204.8,336.4 L205.3,336.2 L205.8,335.8 L206.3,335.5 L206.8,335.0 L207.3,334.6 L207.8,334.0 L208.3,333.4 L208.8,332.7 L209.3,332.0 L209.8,331.2 L210.3,330.4 L210.8,329.4 L211.3,328.5 L211.8,327.4 L212.3,326.4 L212.8,325.3 L213.3,324.2 L213.8,323.1 L214.3,322.0 L214.8,320.9 L215.3,319.8 L215.8,318.8 L216.3,317.9 L216.8,317.1 L217.3,316.4 L217.8,315.7 L218.3,315.2 L218.8,314.9 L219.3,314.7 L219.8,314.6 L220.3,314.7 L220.8,315.0 L221.3,315.4 L221.8,316.0 L222.3,316.7 L222.8,317.5 L223.3,318.3 L223.8,319.2 L224.3,320.2 L224.8,321.1 L225.3,322.0 L225.8,323.0 L226.3,323.8 L226.8,324.7 L227.3,325.5 L227.8,326.2 L228.3,326.9 L228.8,327.6 L229.3,328.2 L229.8,328.7 L230.3,329.3 L230.8,329.8 L231.3,330.2 L231.8,330.7 L232.3,331.1 L232.8,331.4 L233.3,331.8 L233.8,332.1 L234.3,332.4 L234.8,332.7 L235.3,332.9 L235.8,333.2 L236.3,333.4 L236.8,333.6 L237.3,333.8 L237.8,334.0 L238.3,334.1 L238.8,334.3 L239.3,334.5 L239.8,334.6 L240.3,334.7 L240.8,334.9 L241.3,335.0 L241.8,335.1 L242.3,335.2 L242.8,335.3 L243.3,335.4 L243.8,335.5 L244.3,335.6 L244.8,335.6 L245.3,335.7 L245.8,335.8 L246.3,335.9 L246.8,335.9 L247.3,336.0 L247.8,336.0 L248.3,336.1 L248.8,336.2 L249.3,336.2 L249.8,336.3 L250.3,336.3 L250.8,336.4 L251.3,336.4 L251.8,336.4 L252.3,336.5 L252.8,336.5 L253.3,336.5 L253.8,336.6 L254.3,336.6 L254.8,336.6 L255.3,336.7 L255.8,336.7 L256.3,336.7 L256.8,336.8 L257.3,336.8 L257.8,336.8 L258.3,336.8 L258.8,336.9 L259.3,336.9 L259.8,336.9 L260.3,336.9 L260.8,336.9 L261.3,337.0 L261.8,337.0 L262.3,337.0 L262.8,337.0 L263.3,337.0 L263.8,337.1 L264.3,337.1 L264.8,337.1 L265.3,337.1 L265.8,337.1 L266.3,337.1 L266.8,337.1 L267.3,337.2 L267.8,337.2 L268.3,337.2 L268.8,337.2 L269.3,337.2 L269.8,337.2 L270.3,337.2 L270.8,337.2 L271.3,337.3 L271.8,337.3 L272.3,337.3 L272.8,337.3 L273.3,337.3 L273.8,337.3 L274.3,337.3 L274.8,337.3 L275.3,337.3 L275.8,337.3 L276.3,337.3 L276.8,337.4 L277.3,337.4 L277.8,337.4 L278.3,337.4" fill="none" stroke="#4a4ae0" stroke-width="1.3"/>
<text x="275" y="336.3" font-size="7.5" font-family="Liberation Sans, sans-serif" font-weight="bold" fill="#111" text-anchor="end" textLength="10.5" lengthAdjust="spacingAndGlyphs" >6 V</text>
<path d="M188.3,356.2 L188.8,356.2 L189.3,356.2 L189.8,356.2 L190.3,356.2 L190.8,356.2 L191.3,356.2 L191.8,356.2 L192.3,356.2 L192.8,356.2 L193.3,356.2 L193.8,356.2 L194.3,356.2 L194.8,356.2 L195.3,356.2 L195.8,356.2 L196.3,356.2 L196.8,356.2 L197.3,356.2 L197.8,356.1 L198.3,356.1 L198.8,356.1 L199.3,356.1 L199.8,356.0 L200.3,356.0 L200.8,356.0 L201.3,355.9 L201.8,355.8 L202.3,355.7 L202.8,355.6 L203.3,355.4 L203.8,355.3 L204.3,355.1 L204.8,354.8 L205.3,354.6 L205.8,354.2 L206.3,353.9 L206.8,353.4 L207.3,353.0 L207.8,352.4 L208.3,351.8 L208.8,351.1 L209.3,350.4 L209.8,349.6 L210.3,348.8 L210.8,347.8 L211.3,346.9 L211.8,345.8 L212.3,344.8 L212.8,343.7 L213.3,342.6 L213.8,341.5 L214.3,340.4 L214.8,339.3 L215.3,338.2 L215.8,337.2 L216.3,336.3 L216.8,335.5 L217.3,334.8 L217.8,334.1 L218.3,333.6 L218.8,333.3 L219.3,333.1 L219.8,333.0 L220.3,333.1 L220.8,333.4 L221.3,333.8 L221.8,334.4 L222.3,335.1 L222.8,335.9 L223.3,336.7 L223.8,337.6 L224.3,338.6 L224.8,339.5 L225.3,340.4 L225.8,341.4 L226.3,342.2 L226.8,343.1 L227.3,343.9 L227.8,344.6 L228.3,345.3 L228.8,346.0 L229.3,346.6 L229.8,347.1 L230.3,347.7 L230.8,348.2 L231.3,348.6 L231.8,349.1 L232.3,349.5 L232.8,349.8 L233.3,350.2 L233.8,350.5 L234.3,350.8 L234.8,351.1 L235.3,351.3 L235.8,351.6 L236.3,351.8 L236.8,352.0 L237.3,352.2 L237.8,352.4 L238.3,352.5 L238.8,352.7 L239.3,352.9 L239.8,353.0 L240.3,353.1 L240.8,353.3 L241.3,353.4 L241.8,353.5 L242.3,353.6 L242.8,353.7 L243.3,353.8 L243.8,353.9 L244.3,354.0 L244.8,354.0 L245.3,354.1 L245.8,354.2 L246.3,354.3 L246.8,354.3 L247.3,354.4 L247.8,354.4 L248.3,354.5 L248.8,354.6 L249.3,354.6 L249.8,354.7 L250.3,354.7 L250.8,354.8 L251.3,354.8 L251.8,354.8 L252.3,354.9 L252.8,354.9 L253.3,354.9 L253.8,355.0 L254.3,355.0 L254.8,355.0 L255.3,355.1 L255.8,355.1 L256.3,355.1 L256.8,355.2 L257.3,355.2 L257.8,355.2 L258.3,355.2 L258.8,355.3 L259.3,355.3 L259.8,355.3 L260.3,355.3 L260.8,355.3 L261.3,355.4 L261.8,355.4 L262.3,355.4 L262.8,355.4 L263.3,355.4 L263.8,355.5 L264.3,355.5 L264.8,355.5 L265.3,355.5 L265.8,355.5 L266.3,355.5 L266.8,355.5 L267.3,355.6 L267.8,355.6 L268.3,355.6 L268.8,355.6 L269.3,355.6 L269.8,355.6 L270.3,355.6 L270.8,355.6 L271.3,355.7 L271.8,355.7 L272.3,355.7 L272.8,355.7 L273.3,355.7 L273.8,355.7 L274.3,355.7 L274.8,355.7 L275.3,355.7 L275.8,355.7 L276.3,355.7 L276.8,355.8 L277.3,355.8 L277.8,355.8 L278.3,355.8" fill="none" stroke="#20dd30" stroke-width="1.3"/>
<text x="275" y="354.7" font-size="7.5" font-family="Liberation Sans, sans-serif" font-weight="bold" fill="#111" text-anchor="end" textLength="10.5" lengthAdjust="spacingAndGlyphs" >5 V</text>
<path d="M188.3,374.8 L188.8,374.8 L189.3,374.8 L189.8,374.8 L190.3,374.8 L190.8,374.8 L191.3,374.8 L191.8,374.8 L192.3,374.8 L192.8,374.8 L193.3,374.8 L193.8,374.8 L194.3,374.8 L194.8,374.8 L195.3,374.8 L195.8,374.8 L196.3,374.8 L196.8,374.8 L197.3,374.8 L197.8,374.7 L198.3,374.7 L198.8,374.7 L199.3,374.7 L199.8,374.6 L200.3,374.6 L200.8,374.6 L201.3,374.5 L201.8,374.4 L202.3,374.3 L202.8,374.2 L203.3,374.0 L203.8,373.9 L204.3,373.7 L204.8,373.4 L205.3,373.2 L205.8,372.8 L206.3,372.5 L206.8,372.0 L207.3,371.6 L207.8,371.0 L208.3,370.4 L208.8,369.7 L209.3,369.0 L209.8,368.2 L210.3,367.4 L210.8,366.4 L211.3,365.5 L211.8,364.4 L212.3,363.4 L212.8,362.3 L213.3,361.2 L213.8,360.1 L214.3,359.0 L214.8,357.9 L215.3,356.8 L215.8,355.8 L216.3,354.9 L216.8,354.1 L217.3,353.4 L217.8,352.7 L218.3,352.2 L218.8,351.9 L219.3,351.7 L219.8,351.6 L220.3,351.7 L220.8,352.0 L221.3,352.4 L221.8,353.0 L222.3,353.7 L222.8,354.5 L223.3,355.3 L223.8,356.2 L224.3,357.2 L224.8,358.1 L225.3,359.0 L225.8,360.0 L226.3,360.8 L226.8,361.7 L227.3,362.5 L227.8,363.2 L228.3,363.9 L228.8,364.6 L229.3,365.2 L229.8,365.7 L230.3,366.3 L230.8,366.8 L231.3,367.2 L231.8,367.7 L232.3,368.1 L232.8,368.4 L233.3,368.8 L233.8,369.1 L234.3,369.4 L234.8,369.7 L235.3,369.9 L235.8,370.2 L236.3,370.4 L236.8,370.6 L237.3,370.8 L237.8,371.0 L238.3,371.1 L238.8,371.3 L239.3,371.5 L239.8,371.6 L240.3,371.7 L240.8,371.9 L241.3,372.0 L241.8,372.1 L242.3,372.2 L242.8,372.3 L243.3,372.4 L243.8,372.5 L244.3,372.6 L244.8,372.6 L245.3,372.7 L245.8,372.8 L246.3,372.9 L246.8,372.9 L247.3,373.0 L247.8,373.0 L248.3,373.1 L248.8,373.2 L249.3,373.2 L249.8,373.3 L250.3,373.3 L250.8,373.4 L251.3,373.4 L251.8,373.4 L252.3,373.5 L252.8,373.5 L253.3,373.5 L253.8,373.6 L254.3,373.6 L254.8,373.6 L255.3,373.7 L255.8,373.7 L256.3,373.7 L256.8,373.8 L257.3,373.8 L257.8,373.8 L258.3,373.8 L258.8,373.9 L259.3,373.9 L259.8,373.9 L260.3,373.9 L260.8,373.9 L261.3,374.0 L261.8,374.0 L262.3,374.0 L262.8,374.0 L263.3,374.0 L263.8,374.1 L264.3,374.1 L264.8,374.1 L265.3,374.1 L265.8,374.1 L266.3,374.1 L266.8,374.1 L267.3,374.2 L267.8,374.2 L268.3,374.2 L268.8,374.2 L269.3,374.2 L269.8,374.2 L270.3,374.2 L270.8,374.2 L271.3,374.3 L271.8,374.3 L272.3,374.3 L272.8,374.3 L273.3,374.3 L273.8,374.3 L274.3,374.3 L274.8,374.3 L275.3,374.3 L275.8,374.3 L276.3,374.3 L276.8,374.4 L277.3,374.4 L277.8,374.4 L278.3,374.4" fill="none" stroke="#f04848" stroke-width="1.3"/>
<text x="275" y="373.3" font-size="7.5" font-family="Liberation Sans, sans-serif" font-weight="bold" fill="#111" text-anchor="end" textLength="10.5" lengthAdjust="spacingAndGlyphs" >4 V</text>
<path d="M188.3,392.2 L188.8,392.2 L189.3,392.2 L189.8,392.2 L190.3,392.2 L190.8,392.2 L191.3,392.2 L191.8,392.2 L192.3,392.2 L192.8,392.2 L193.3,392.2 L193.8,392.2 L194.3,392.2 L194.8,392.2 L195.3,392.2 L195.8,392.2 L196.3,392.2 L196.8,392.2 L197.3,392.1 L197.8,392.1 L198.3,392.1 L198.8,392.0 L199.3,392.0 L199.8,391.9 L200.3,391.8 L200.8,391.6 L201.3,391.5 L201.8,391.3 L202.3,391.1 L202.8,390.8 L203.3,390.6 L203.8,390.3 L204.3,390.0 L204.8,389.6 L205.3,389.3 L205.8,389.0 L206.3,388.6 L206.8,388.3 L207.3,387.9 L207.8,387.5 L208.3,387.1 L208.8,386.7 L209.3,386.2 L209.8,385.7 L210.3,385.1 L210.8,384.5 L211.3,383.7 L211.8,382.9 L212.3,382.1 L212.8,381.1 L213.3,380.1 L213.8,379.1 L214.3,378.0 L214.8,377.0 L215.3,375.9 L215.8,374.9 L216.3,374.0 L216.8,373.1 L217.3,372.3 L217.8,371.6 L218.3,371.1 L218.8,370.7 L219.3,370.5 L219.8,370.4 L220.3,370.5 L220.8,370.8 L221.3,371.2 L221.8,371.8 L222.3,372.6 L222.8,373.4 L223.3,374.3 L223.8,375.2 L224.3,376.2 L224.8,377.1 L225.3,378.0 L225.8,378.9 L226.3,379.8 L226.8,380.5 L227.3,381.3 L227.8,382.0 L228.3,382.7 L228.8,383.3 L229.3,383.8 L229.8,384.4 L230.3,384.8 L230.8,385.3 L231.3,385.7 L231.8,386.1 L232.3,386.4 L232.8,386.8 L233.3,387.1 L233.8,387.3 L234.3,387.6 L234.8,387.8 L235.3,388.1 L235.8,388.3 L236.3,388.5 L236.8,388.6 L237.3,388.8 L237.8,389.0 L238.3,389.1 L238.8,389.3 L239.3,389.4 L239.8,389.5 L240.3,389.6 L240.8,389.7 L241.3,389.8 L241.8,389.9 L242.3,390.0 L242.8,390.1 L243.3,390.2 L243.8,390.3 L244.3,390.3 L244.8,390.4 L245.3,390.5 L245.8,390.5 L246.3,390.6 L246.8,390.6 L247.3,390.7 L247.8,390.7 L248.3,390.8 L248.8,390.8 L249.3,390.9 L249.8,390.9 L250.3,391.0 L250.8,391.0 L251.3,391.0 L251.8,391.1 L252.3,391.1 L252.8,391.1 L253.3,391.2 L253.8,391.2 L254.3,391.2 L254.8,391.2 L255.3,391.3 L255.8,391.3 L256.3,391.3 L256.8,391.3 L257.3,391.4 L257.8,391.4 L258.3,391.4 L258.8,391.4 L259.3,391.4 L259.8,391.5 L260.3,391.5 L260.8,391.5 L261.3,391.5 L261.8,391.5 L262.3,391.5 L262.8,391.6 L263.3,391.6 L263.8,391.6 L264.3,391.6 L264.8,391.6 L265.3,391.6 L265.8,391.6 L266.3,391.6 L266.8,391.7 L267.3,391.7 L267.8,391.7 L268.3,391.7 L268.8,391.7 L269.3,391.7 L269.8,391.7 L270.3,391.7 L270.8,391.7 L271.3,391.7 L271.8,391.8 L272.3,391.8 L272.8,391.8 L273.3,391.8 L273.8,391.8 L274.3,391.8 L274.8,391.8 L275.3,391.8 L275.8,391.8 L276.3,391.8 L276.8,391.8 L277.3,391.8 L277.8,391.8 L278.3,391.8" fill="none" stroke="#222" stroke-width="1.3"/>
<text x="275" y="390.7" font-size="7.5" font-family="Liberation Sans, sans-serif" font-weight="bold" fill="#111" text-anchor="end" textLength="10.5" lengthAdjust="spacingAndGlyphs" >3 V</text>
<line x1="219.6" y1="275" x2="219.6" y2="392" stroke="#111" stroke-width="0.9" stroke-dasharray="1.2 1.6"/>
<defs><radialGradient id="bglow" cx="0.5" cy="0.5" r="0.5"><stop offset="0" stop-color="#8ad8ff"/><stop offset="0.25" stop-color="#3a9aff"/><stop offset="0.6" stop-color="#1a6af0" stop-opacity="0.6"/><stop offset="1" stop-color="#1050d0" stop-opacity="0"/></radialGradient>
<clipPath id="fclip"><rect x="286" y="273.5" width="28.4" height="139.8"/></clipPath></defs>
<g clip-path="url(#fclip)">
<linearGradient id="fp0" x1="0" y1="0" x2="0" y2="1"><stop offset="0" stop-color="#020409"/><stop offset="1" stop-color="#050c20"/></linearGradient>
<rect x="286" y="273.5" width="28.4" height="26.4" fill="url(#fp0)"/>
<circle cx="304.3" cy="292.3" r="4" fill="#1a4aa0" opacity="0.5"/>
<circle cx="304.3" cy="292.3" r="1.9" fill="#f4ffff"/>
<text x="288.4" y="280.5" font-size="7.2" font-family="Liberation Serif, serif" font-weight="normal" fill="#f0f2f8" text-anchor="start" textLength="19.5" lengthAdjust="spacingAndGlyphs" >@2.6 V</text>
<linearGradient id="fp1" x1="0" y1="0" x2="0" y2="1"><stop offset="0" stop-color="#061230"/><stop offset="1" stop-color="#1448b0"/></linearGradient>
<rect x="286" y="299.7" width="28.4" height="29.1" fill="url(#fp1)"/>
<ellipse cx="300.1" cy="319.4" rx="17" ry="11" fill="url(#bglow)" opacity="0.58"/>
<line x1="286" y1="300.09999999999997" x2="314.4" y2="300.09999999999997" stroke="#061a44" stroke-width="0.9"/>
<path d="M289,304.7 Q300,300.7 312,303.7" stroke="#5aa8ff" stroke-width="0.6" fill="none" opacity="0.6"/>
<circle cx="303.1" cy="320.4" r="1.9" fill="#f4ffff"/>
<text x="288.4" y="311" font-size="7.2" font-family="Liberation Serif, serif" font-weight="normal" fill="#f0f2f8" text-anchor="start" textLength="19.5" lengthAdjust="spacingAndGlyphs" >@3.0 V</text>
<linearGradient id="fp2" x1="0" y1="0" x2="0" y2="1"><stop offset="0" stop-color="#0c3088"/><stop offset="1" stop-color="#1658cc"/></linearGradient>
<rect x="286" y="328.6" width="28.4" height="29.0" fill="url(#fp2)"/>
<ellipse cx="300.5" cy="349.8" rx="17" ry="11" fill="url(#bglow)" opacity="0.66"/>
<line x1="286" y1="329.0" x2="314.4" y2="329.0" stroke="#061a44" stroke-width="0.9"/>
<path d="M289,333.6 Q300,329.6 312,332.6" stroke="#5aa8ff" stroke-width="0.6" fill="none" opacity="0.6"/>
<circle cx="303.5" cy="350.8" r="1.9" fill="#f4ffff"/>
<text x="288.4" y="339.2" font-size="7.2" font-family="Liberation Serif, serif" font-weight="normal" fill="#f0f2f8" text-anchor="start" textLength="19.5" lengthAdjust="spacingAndGlyphs" >@4.0 V</text>
<linearGradient id="fp3" x1="0" y1="0" x2="0" y2="1"><stop offset="0" stop-color="#1040a8"/><stop offset="1" stop-color="#1a62d8"/></linearGradient>
<rect x="286" y="357.4" width="28.4" height="26.2" fill="url(#fp3)"/>
<ellipse cx="301" cy="376.3" rx="17" ry="11" fill="url(#bglow)" opacity="0.74"/>
<line x1="286" y1="357.79999999999995" x2="314.4" y2="357.79999999999995" stroke="#061a44" stroke-width="0.9"/>
<path d="M289,362.4 Q300,358.4 312,361.4" stroke="#5aa8ff" stroke-width="0.6" fill="none" opacity="0.6"/>
<circle cx="304" cy="377.3" r="1.9" fill="#f4ffff"/>
<text x="288.4" y="365.7" font-size="7.2" font-family="Liberation Serif, serif" font-weight="normal" fill="#f0f2f8" text-anchor="start" textLength="19.5" lengthAdjust="spacingAndGlyphs" >@5.0 V</text>
<linearGradient id="fp4" x1="0" y1="0" x2="0" y2="1"><stop offset="0" stop-color="#0e3ca0"/><stop offset="1" stop-color="#1a60d4"/></linearGradient>
<rect x="286" y="383.4" width="28.4" height="30.1" fill="url(#fp4)"/>
<ellipse cx="300.4" cy="405" rx="17" ry="11" fill="url(#bglow)" opacity="0.8200000000000001"/>
<line x1="286" y1="383.79999999999995" x2="314.4" y2="383.79999999999995" stroke="#061a44" stroke-width="0.9"/>
<path d="M289,388.4 Q300,384.4 312,387.4" stroke="#5aa8ff" stroke-width="0.6" fill="none" opacity="0.6"/>
<circle cx="303.4" cy="406" r="1.9" fill="#f4ffff"/>
<text x="288.4" y="394.2" font-size="7.2" font-family="Liberation Serif, serif" font-weight="normal" fill="#f0f2f8" text-anchor="start" textLength="19.5" lengthAdjust="spacingAndGlyphs" >@6.0 V</text>
</g>
<text x="321" y="283.8" font-size="16" font-family="Liberation Serif, serif" font-weight="bold" fill="#000" text-anchor="start" >g)</text>
<rect x="342.8" y="283.8" width="199.3" height="115.2" fill="none" stroke="#777" stroke-width="1"/>
<text x="364.8" y="409" font-size="7.5" font-family="Liberation Sans, sans-serif" font-weight="normal" fill="#333" text-anchor="middle" >400</text>
<line x1="364.8" y1="399" x2="364.8" y2="396" stroke="#777" stroke-width="0.7"/>
<text x="408.8" y="409" font-size="7.5" font-family="Liberation Sans, sans-serif" font-weight="normal" fill="#333" text-anchor="middle" >450</text>
<line x1="408.8" y1="399" x2="408.8" y2="396" stroke="#777" stroke-width="0.7"/>
<text x="452.8" y="409" font-size="7.5" font-family="Liberation Sans, sans-serif" font-weight="normal" fill="#333" text-anchor="middle" >500</text>
<line x1="452.8" y1="399" x2="452.8" y2="396" stroke="#777" stroke-width="0.7"/>
<text x="496.8" y="409" font-size="7.5" font-family="Liberation Sans, sans-serif" font-weight="normal" fill="#333" text-anchor="middle" >550</text>
<line x1="496.8" y1="399" x2="496.8" y2="396" stroke="#777" stroke-width="0.7"/>
<text x="540.8" y="409" font-size="7.5" font-family="Liberation Sans, sans-serif" font-weight="normal" fill="#333" text-anchor="middle" >600</text>
<line x1="540.8" y1="399" x2="540.8" y2="396" stroke="#777" stroke-width="0.7"/>
<line x1="342.8" y1="292.8" x2="345.5" y2="292.8" stroke="#777" stroke-width="0.7"/>
<line x1="342.8" y1="319.7" x2="345.5" y2="319.7" stroke="#777" stroke-width="0.7"/>
<line x1="342.8" y1="346.7" x2="345.5" y2="346.7" stroke="#777" stroke-width="0.7"/>
<line x1="342.8" y1="373.6" x2="345.5" y2="373.6" stroke="#777" stroke-width="0.7"/>
<text x="436" y="418" font-size="8" font-family="Liberation Sans, sans-serif" font-weight="normal" fill="#333" text-anchor="middle" textLength="60.7" lengthAdjust="spacingAndGlyphs" >Wavelength (nm)</text>
<g transform="translate(336.6,384.4) rotate(-90)"><text x="0" y="0" font-size="8" font-family="Liberation Sans, sans-serif" fill="#333" textLength="84" lengthAdjust="spacingAndGlyphs">Normalized PL Intensity</text></g>
<defs><radialGradient id="shell" cx="0.5" cy="0.5" r="0.5"><stop offset="0.7" stop-color="#a8b0f0"/><stop offset="0.88" stop-color="#8c8ff0"/><stop offset="1" stop-color="#7a78e8"/></radialGradient>
<pattern id="qd" x="358" y="297" width="4" height="4" patternUnits="userSpaceOnUse"><rect width="4" height="4" fill="#e89418"/><circle cx="1" cy="1" r="1.1" fill="#f5a818"/><circle cx="3" cy="3" r="1" fill="#1a2a70"/></pattern></defs>
<circle cx="376.5" cy="315.3" r="29" fill="url(#shell)"/>
<circle cx="376.5" cy="315.3" r="21.3" fill="#9ab0d8"/>
<clipPath id="coreclip"><circle cx="377" cy="315.5" r="18"/></clipPath>
<circle cx="377" cy="315.5" r="18" fill="#c87a10"/>
<g clip-path="url(#coreclip)">
<circle cx="370.6" cy="299.4" r="1.35" fill="#1a2060"/>
<circle cx="373.3" cy="299.4" r="1.35" fill="#f8b020"/>
<circle cx="376.0" cy="299.4" r="1.35" fill="#f0a020"/>
<circle cx="378.7" cy="299.4" r="1.35" fill="#1a2060"/>
<circle cx="381.4" cy="299.4" r="1.35" fill="#eca01c"/>
<circle cx="366.6" cy="301.7" r="1.35" fill="#f4a818"/>
<circle cx="369.3" cy="301.7" r="1.35" fill="#f4a818"/>
<circle cx="372.0" cy="301.7" r="1.35" fill="#1a2060"/>
<circle cx="374.7" cy="301.7" r="1.35" fill="#f4a818"/>
<circle cx="377.4" cy="301.7" r="1.35" fill="#f8b020"/>
<circle cx="380.1" cy="301.7" r="1.35" fill="#1a2060"/>
<circle cx="382.8" cy="301.7" r="1.35" fill="#f4a818"/>
<circle cx="385.5" cy="301.7" r="1.35" fill="#f0a020"/>
<circle cx="365.2" cy="304.1" r="1.35" fill="#f4a818"/>
<circle cx="367.9" cy="304.1" r="1.35" fill="#1a2060"/>
<circle cx="370.6" cy="304.1" r="1.35" fill="#f4a818"/>
<circle cx="373.3" cy="304.1" r="1.35" fill="#eca01c"/>
<circle cx="376.0" cy="304.1" r="1.35" fill="#1a2060"/>
<circle cx="378.7" cy="304.1" r="1.35" fill="#eca01c"/>
<circle cx="381.4" cy="304.1" r="1.35" fill="#f4a818"/>
<circle cx="384.1" cy="304.1" r="1.35" fill="#1a2060"/>
<circle cx="386.8" cy="304.1" r="1.35" fill="#f0a020"/>
<circle cx="389.5" cy="304.1" r="1.35" fill="#f4a818"/>
<circle cx="363.9" cy="306.4" r="1.35" fill="#eca01c"/>
<circle cx="366.6" cy="306.4" r="1.35" fill="#f4a818"/>
<circle cx="369.3" cy="306.4" r="1.35" fill="#1a2060"/>
<circle cx="372.0" cy="306.4" r="1.35" fill="#f4a818"/>
<circle cx="374.7" cy="306.4" r="1.35" fill="#f0a020"/>
<circle cx="377.4" cy="306.4" r="1.35" fill="#1a2060"/>
<circle cx="380.1" cy="306.4" r="1.35" fill="#f4a818"/>
<circle cx="382.8" cy="306.4" r="1.35" fill="#eca01c"/>
<circle cx="385.5" cy="306.4" r="1.35" fill="#1a2060"/>
<circle cx="388.2" cy="306.4" r="1.35" fill="#f4a818"/>
<circle cx="390.9" cy="306.4" r="1.35" fill="#f0a020"/>
<circle cx="362.6" cy="308.8" r="1.35" fill="#f4a818"/>
<circle cx="365.2" cy="308.8" r="1.35" fill="#1a2060"/>
<circle cx="367.9" cy="308.8" r="1.35" fill="#f0a020"/>
<circle cx="370.6" cy="308.8" r="1.35" fill="#f8b020"/>
<circle cx="373.3" cy="308.8" r="1.35" fill="#1a2060"/>
<circle cx="376.0" cy="308.8" r="1.35" fill="#eca01c"/>
<circle cx="378.7" cy="308.8" r="1.35" fill="#f0a020"/>
<circle cx="381.4" cy="308.8" r="1.35" fill="#1a2060"/>
<circle cx="384.1" cy="308.8" r="1.35" fill="#f4a818"/>
<circle cx="386.8" cy="308.8" r="1.35" fill="#f8b020"/>
<circle cx="389.5" cy="308.8" r="1.35" fill="#1a2060"/>
<circle cx="392.2" cy="308.8" r="1.35" fill="#f0a020"/>
<circle cx="361.2" cy="311.1" r="1.35" fill="#f4a818"/>
<circle cx="363.9" cy="311.1" r="1.35" fill="#f0a020"/>
<circle cx="366.6" cy="311.1" r="1.35" fill="#1a2060"/>
<circle cx="369.3" cy="311.1" r="1.35" fill="#f8b020"/>
<circle cx="372.0" cy="311.1" r="1.35" fill="#f4a818"/>
<circle cx="374.7" cy="311.1" r="1.35" fill="#1a2060"/>
<circle cx="377.4" cy="311.1" r="1.35" fill="#f4a818"/>
<circle cx="380.1" cy="311.1" r="1.35" fill="#f4a818"/>
<circle cx="382.8" cy="311.1" r="1.35" fill="#1a2060"/>
<circle cx="385.5" cy="311.1" r="1.35" fill="#f0a020"/>
<circle cx="388.2" cy="311.1" r="1.35" fill="#eca01c"/>
<circle cx="390.9" cy="311.1" r="1.35" fill="#1a2060"/>
<circle cx="393.6" cy="311.1" r="1.35" fill="#eca01c"/>
<circle cx="359.9" cy="313.5" r="1.35" fill="#f8b020"/>
<circle cx="362.6" cy="313.5" r="1.35" fill="#1a2060"/>
<circle cx="365.2" cy="313.5" r="1.35" fill="#eca01c"/>
<circle cx="367.9" cy="313.5" r="1.35" fill="#eca01c"/>
<circle cx="370.6" cy="313.5" r="1.35" fill="#1a2060"/>
<circle cx="373.3" cy="313.5" r="1.35" fill="#f8b020"/>
<circle cx="376.0" cy="313.5" r="1.35" fill="#f8b020"/>
<circle cx="378.7" cy="313.5" r="1.35" fill="#1a2060"/>
<circle cx="381.4" cy="313.5" r="1.35" fill="#f0a020"/>
<circle cx="384.1" cy="313.5" r="1.35" fill="#f0a020"/>
<circle cx="386.8" cy="313.5" r="1.35" fill="#1a2060"/>
<circle cx="389.5" cy="313.5" r="1.35" fill="#f0a020"/>
<circle cx="392.2" cy="313.5" r="1.35" fill="#f4a818"/>
<circle cx="361.2" cy="315.8" r="1.35" fill="#f8b020"/>
<circle cx="363.9" cy="315.8" r="1.35" fill="#1a2060"/>
<circle cx="366.6" cy="315.8" r="1.35" fill="#eca01c"/>
<circle cx="369.3" cy="315.8" r="1.35" fill="#f8b020"/>
<circle cx="372.0" cy="315.8" r="1.35" fill="#1a2060"/>
<circle cx="374.7" cy="315.8" r="1.35" fill="#eca01c"/>
<circle cx="377.4" cy="315.8" r="1.35" fill="#f8b020"/>
<circle cx="380.1" cy="315.8" r="1.35" fill="#1a2060"/>
<circle cx="382.8" cy="315.8" r="1.35" fill="#f4a818"/>
<circle cx="385.5" cy="315.8" r="1.35" fill="#f4a818"/>
<circle cx="388.2" cy="315.8" r="1.35" fill="#1a2060"/>
<circle cx="390.9" cy="315.8" r="1.35" fill="#eca01c"/>
<circle cx="393.6" cy="315.8" r="1.35" fill="#f0a020"/>
<circle cx="359.9" cy="318.2" r="1.35" fill="#1a2060"/>
<circle cx="362.6" cy="318.2" r="1.35" fill="#f8b020"/>
<circle cx="365.2" cy="318.2" r="1.35" fill="#f0a020"/>
<circle cx="367.9" cy="318.2" r="1.35" fill="#1a2060"/>
<circle cx="370.6" cy="318.2" r="1.35" fill="#eca01c"/>
<circle cx="373.3" cy="318.2" r="1.35" fill="#eca01c"/>
<circle cx="376.0" cy="318.2" r="1.35" fill="#1a2060"/>
<circle cx="378.7" cy="318.2" r="1.35" fill="#f4a818"/>
<circle cx="381.4" cy="318.2" r="1.35" fill="#f4a818"/>
<circle cx="384.1" cy="318.2" r="1.35" fill="#1a2060"/>
<circle cx="386.8" cy="318.2" r="1.35" fill="#f8b020"/>
<circle cx="389.5" cy="318.2" r="1.35" fill="#f8b020"/>
<circle cx="392.2" cy="318.2" r="1.35" fill="#1a2060"/>
<circle cx="361.2" cy="320.5" r="1.35" fill="#1a2060"/>
<circle cx="363.9" cy="320.5" r="1.35" fill="#f8b020"/>
<circle cx="366.6" cy="320.5" r="1.35" fill="#eca01c"/>
<circle cx="369.3" cy="320.5" r="1.35" fill="#1a2060"/>
<circle cx="372.0" cy="320.5" r="1.35" fill="#eca01c"/>
<circle cx="374.7" cy="320.5" r="1.35" fill="#f4a818"/>
<circle cx="377.4" cy="320.5" r="1.35" fill="#1a2060"/>
<circle cx="380.1" cy="320.5" r="1.35" fill="#f4a818"/>
<circle cx="382.8" cy="320.5" r="1.35" fill="#f8b020"/>
<circle cx="385.5" cy="320.5" r="1.35" fill="#1a2060"/>
<circle cx="388.2" cy="320.5" r="1.35" fill="#eca01c"/>
<circle cx="390.9" cy="320.5" r="1.35" fill="#f4a818"/>
<circle cx="393.6" cy="320.5" r="1.35" fill="#1a2060"/>
<circle cx="362.6" cy="322.9" r="1.35" fill="#f4a818"/>
<circle cx="365.2" cy="322.9" r="1.35" fill="#1a2060"/>
<circle cx="367.9" cy="322.9" r="1.35" fill="#f8b020"/>
<circle cx="370.6" cy="322.9" r="1.35" fill="#eca01c"/>
<circle cx="373.3" cy="322.9" r="1.35" fill="#1a2060"/>
<circle cx="376.0" cy="322.9" r="1.35" fill="#f8b020"/>
<circle cx="378.7" cy="322.9" r="1.35" fill="#eca01c"/>
<circle cx="381.4" cy="322.9" r="1.35" fill="#1a2060"/>
<circle cx="384.1" cy="322.9" r="1.35" fill="#f8b020"/>
<circle cx="386.8" cy="322.9" r="1.35" fill="#f4a818"/>
<circle cx="389.5" cy="322.9" r="1.35" fill="#1a2060"/>
<circle cx="392.2" cy="322.9" r="1.35" fill="#eca01c"/>
<circle cx="363.9" cy="325.2" r="1.35" fill="#f8b020"/>
<circle cx="366.6" cy="325.2" r="1.35" fill="#1a2060"/>
<circle cx="369.3" cy="325.2" r="1.35" fill="#f0a020"/>
<circle cx="372.0" cy="325.2" r="1.35" fill="#f4a818"/>
<circle cx="374.7" cy="325.2" r="1.35" fill="#1a2060"/>
<circle cx="377.4" cy="325.2" r="1.35" fill="#eca01c"/>
<circle cx="380.1" cy="325.2" r="1.35" fill="#f4a818"/>
<circle cx="382.8" cy="325.2" r="1.35" fill="#1a2060"/>
<circle cx="385.5" cy="325.2" r="1.35" fill="#f0a020"/>
<circle cx="388.2" cy="325.2" r="1.35" fill="#f8b020"/>
<circle cx="390.9" cy="325.2" r="1.35" fill="#1a2060"/>
<circle cx="365.2" cy="327.6" r="1.35" fill="#f0a020"/>
<circle cx="367.9" cy="327.6" r="1.35" fill="#f0a020"/>
<circle cx="370.6" cy="327.6" r="1.35" fill="#1a2060"/>
<circle cx="373.3" cy="327.6" r="1.35" fill="#eca01c"/>
<circle cx="376.0" cy="327.6" r="1.35" fill="#eca01c"/>
<circle cx="378.7" cy="327.6" r="1.35" fill="#1a2060"/>
<circle cx="381.4" cy="327.6" r="1.35" fill="#eca01c"/>
<circle cx="384.1" cy="327.6" r="1.35" fill="#f4a818"/>
<circle cx="386.8" cy="327.6" r="1.35" fill="#1a2060"/>
<circle cx="389.5" cy="327.6" r="1.35" fill="#f0a020"/>
<circle cx="369.3" cy="329.9" r="1.35" fill="#eca01c"/>
<circle cx="372.0" cy="329.9" r="1.35" fill="#1a2060"/>
<circle cx="374.7" cy="329.9" r="1.35" fill="#eca01c"/>
<circle cx="377.4" cy="329.9" r="1.35" fill="#f8b020"/>
<circle cx="380.1" cy="329.9" r="1.35" fill="#1a2060"/>
<circle cx="382.8" cy="329.9" r="1.35" fill="#f0a020"/>
<circle cx="385.5" cy="329.9" r="1.35" fill="#eca01c"/>
<circle cx="373.3" cy="332.3" r="1.35" fill="#f8b020"/>
<circle cx="376.0" cy="332.3" r="1.35" fill="#1a2060"/>
<circle cx="378.7" cy="332.3" r="1.35" fill="#eca01c"/>
<circle cx="381.4" cy="332.3" r="1.35" fill="#f8b020"/>
</g>
<text x="377" y="318" font-size="7" font-family="Liberation Sans, sans-serif" font-weight="bold" fill="#f0f0f8" text-anchor="middle" stroke="#8890b0" stroke-width="0.4" opacity="0.8">InGaP</text>
<line x1="377.1" y1="289.2" x2="405" y2="289.2" stroke="#666" stroke-width="0.6"/><circle cx="377.1" cy="289.2" r="1.1" fill="#334"/>
<line x1="377.5" y1="296.4" x2="405" y2="296.4" stroke="#666" stroke-width="0.6"/><circle cx="377.5" cy="296.4" r="1.1" fill="#334"/>
<text x="406.5" y="291.5" font-size="5.5" font-family="Liberation Serif, serif" font-weight="bold" fill="#222" text-anchor="start" textLength="10" lengthAdjust="spacingAndGlyphs" >ZnS</text>
<text x="406.5" y="298.7" font-size="5.5" font-family="Liberation Serif, serif" font-weight="bold" fill="#222" text-anchor="start" textLength="14.7" lengthAdjust="spacingAndGlyphs" >ZnSeS</text>
<text x="406.5" y="304.5" font-size="5.5" font-family="Liberation Serif, serif" font-weight="bold" fill="#222" text-anchor="start" textLength="31.3" lengthAdjust="spacingAndGlyphs" >(Se=0.1 mmol)</text>
<line x1="451" y1="289.4" x2="466" y2="289.4" stroke="#1ec0f0" stroke-width="1.8"/>
<text x="466.5" y="291.79999999999995" font-size="6.6" font-family="Liberation Sans, sans-serif" font-weight="normal" fill="#333" text-anchor="start" textLength="64" lengthAdjust="spacingAndGlyphs" >InGaP (Ga 0.68 mmol)</text>
<line x1="451" y1="297.3" x2="466" y2="297.3" stroke="#4050e8" stroke-width="1.8"/>
<text x="466.5" y="299.7" font-size="6.6" font-family="Liberation Sans, sans-serif" font-weight="normal" fill="#333" text-anchor="start" textLength="60" lengthAdjust="spacingAndGlyphs" >InGaP (Ga 0.9 mmol)</text>
<line x1="451" y1="305" x2="466" y2="305" stroke="#d020d0" stroke-width="1.8"/>
<text x="466.5" y="307.4" font-size="6.6" font-family="Liberation Sans, sans-serif" font-weight="normal" fill="#333" text-anchor="start" textLength="64" lengthAdjust="spacingAndGlyphs" >InGaP (Ga 1.35 mmol)</text>
<path d="M344.0,397.1 L344.8,397.3 L345.6,397.2 L346.4,397.1 L347.2,397.2 L348.0,397.0 L348.8,396.7 L349.6,397.1 L350.4,396.7 L351.2,396.8 L352.0,397.2 L352.8,396.7 L353.6,396.7 L354.4,396.7 L355.2,397.3 L356.0,396.8 L356.8,396.7 L357.6,397.2 L358.4,396.7 L359.2,397.2 L360.0,397.1 L360.8,397.2 L361.6,397.3 L362.4,397.1 L363.2,397.2 L364.0,396.7 L364.8,397.2 L365.6,397.0 L366.4,397.2 L367.2,396.7 L368.0,397.2 L368.8,397.3 L369.6,396.7 L370.4,396.9 L371.2,397.0 L372.0,397.2 L372.8,396.8 L373.6,396.8 L374.4,396.8 L375.2,397.1 L376.0,397.2 L376.8,396.9 L377.6,396.9 L378.4,396.9 L379.2,396.9 L380.0,396.9 L380.8,396.7 L381.6,397.0 L382.4,397.3 L383.2,396.9 L384.0,397.2 L384.8,396.8 L385.6,397.1 L386.4,397.2 L387.2,397.1 L388.0,397.0 L388.8,397.0 L389.6,397.1 L390.4,397.2 L391.2,396.7 L392.0,396.6 L392.8,397.0 L393.6,397.1 L394.4,396.8 L395.2,396.7 L396.0,396.8 L396.8,396.3 L397.6,396.2 L398.4,396.0 L399.2,396.1 L400.0,395.7 L400.8,395.3 L401.6,395.3 L402.4,395.0 L403.2,394.1 L404.0,393.8 L404.8,392.8 L405.6,392.3 L406.4,391.2 L407.2,389.8 L408.0,388.5 L408.8,386.9 L409.6,385.6 L410.4,383.6 L411.2,381.4 L412.0,379.3 L412.8,376.8 L413.6,374.4 L414.4,371.0 L415.2,368.4 L416.0,364.7 L416.8,361.3 L417.6,357.5 L418.4,353.9 L419.2,350.0 L420.0,345.9 L420.8,341.8 L421.6,338.1 L422.4,334.3 L423.2,330.3 L424.0,327.0 L424.8,323.9 L425.6,320.5 L426.4,317.7 L427.2,315.5 L428.0,313.9 L428.8,312.5 L429.6,311.8 L430.4,311.3 L431.2,310.9 L432.0,311.0 L432.8,311.5 L433.6,312.0 L434.4,313.1 L435.2,314.1 L436.0,315.2 L436.8,316.0 L437.6,317.7 L438.4,318.8 L439.2,320.5 L440.0,322.4 L440.8,323.7 L441.6,325.5 L442.4,327.9 L443.2,329.5 L444.0,331.5 L444.8,333.7 L445.6,335.8 L446.4,337.4 L447.2,339.7 L448.0,341.8 L448.8,343.9 L449.6,345.7 L450.4,347.9 L451.2,350.2 L452.0,351.7 L452.8,353.7 L453.6,355.3 L454.4,357.2 L455.2,359.2 L456.0,360.6 L456.8,362.8 L457.6,364.4 L458.4,365.4 L459.2,367.5 L460.0,368.6 L460.8,370.2 L461.6,371.6 L462.4,372.5 L463.2,374.0 L464.0,375.2 L464.8,376.4 L465.6,377.1 L466.4,378.4 L467.2,379.5 L468.0,380.2 L468.8,381.0 L469.6,381.5 L470.4,382.6 L471.2,383.2 L472.0,384.1 L472.8,384.8 L473.6,385.3 L474.4,385.6 L475.2,386.5 L476.0,386.9 L476.8,387.1 L477.6,388.0 L478.4,388.3 L479.2,388.3 L480.0,389.2 L480.8,389.0 L481.6,389.5 L482.4,390.1 L483.2,390.2 L484.0,390.5 L484.8,390.8 L485.6,390.9 L486.4,391.0 L487.2,391.1 L488.0,391.2 L488.8,391.9 L489.6,392.1 L490.4,392.1 L491.2,392.4 L492.0,392.2 L492.8,392.3 L493.6,392.5 L494.4,393.0 L495.2,392.5 L496.0,392.9 L496.8,392.9 L497.6,393.3 L498.4,393.1 L499.2,393.2 L500.0,393.3 L500.8,393.5 L501.6,393.7 L502.4,393.5 L503.2,393.9 L504.0,393.5 L504.8,393.7 L505.6,393.6 L506.4,393.7 L507.2,394.2 L508.0,394.2 L508.8,393.9 L509.6,394.0 L510.4,394.2 L511.2,394.5 L512.0,394.6 L512.8,394.6 L513.6,394.5 L514.4,394.2 L515.2,394.5 L516.0,394.4 L516.8,394.6 L517.6,394.7 L518.4,394.5 L519.2,394.6 L520.0,395.0 L520.8,394.5 L521.6,395.1 L522.4,395.2 L523.2,395.2 L524.0,394.9 L524.8,395.0 L525.6,395.1 L526.4,395.2 L527.2,395.4 L528.0,395.2 L528.8,395.0 L529.6,395.4 L530.4,395.2 L531.2,395.3 L532.0,395.4 L532.8,394.9 L533.6,395.5 L534.4,395.4 L535.2,395.4 L536.0,395.4 L536.8,395.4 L537.6,395.2 L538.4,395.5 L539.2,395.1 L540.0,395.5 L540.8,395.6" fill="none" stroke="#1ec0f0" stroke-width="1.2"/>
<path d="M344.0,397.0 L344.8,397.0 L345.6,397.3 L346.4,397.3 L347.2,396.7 L348.0,397.2 L348.8,397.1 L349.6,396.7 L350.4,396.9 L351.2,396.8 L352.0,396.7 L352.8,397.0 L353.6,397.3 L354.4,396.9 L355.2,397.3 L356.0,397.1 L356.8,396.7 L357.6,397.3 L358.4,397.1 L359.2,397.3 L360.0,397.2 L360.8,397.2 L361.6,396.9 L362.4,397.2 L363.2,397.3 L364.0,397.3 L364.8,397.0 L365.6,397.2 L366.4,397.0 L367.2,396.7 L368.0,396.7 L368.8,396.7 L369.6,396.8 L370.4,396.8 L371.2,397.0 L372.0,397.1 L372.8,397.0 L373.6,396.9 L374.4,397.1 L375.2,396.9 L376.0,397.0 L376.8,397.2 L377.6,396.9 L378.4,396.8 L379.2,397.3 L380.0,397.2 L380.8,396.9 L381.6,396.9 L382.4,397.0 L383.2,397.1 L384.0,396.8 L384.8,396.6 L385.6,396.8 L386.4,397.2 L387.2,396.7 L388.0,396.9 L388.8,396.7 L389.6,396.7 L390.4,396.6 L391.2,396.7 L392.0,396.4 L392.8,396.3 L393.6,396.2 L394.4,396.1 L395.2,396.1 L396.0,395.6 L396.8,395.3 L397.6,395.3 L398.4,394.9 L399.2,394.6 L400.0,393.6 L400.8,393.2 L401.6,392.4 L402.4,391.3 L403.2,390.9 L404.0,389.2 L404.8,387.7 L405.6,386.4 L406.4,384.4 L407.2,382.8 L408.0,380.4 L408.8,377.9 L409.6,375.2 L410.4,372.9 L411.2,369.5 L412.0,366.6 L412.8,363.0 L413.6,359.7 L414.4,355.5 L415.2,351.6 L416.0,347.7 L416.8,344.1 L417.6,340.0 L418.4,335.9 L419.2,331.9 L420.0,328.7 L420.8,325.5 L421.6,322.1 L422.4,318.9 L423.2,316.4 L424.0,314.4 L424.8,312.8 L425.6,311.5 L426.4,310.9 L427.2,311.1 L428.0,311.4 L428.8,311.2 L429.6,312.2 L430.4,312.5 L431.2,313.6 L432.0,314.7 L432.8,315.8 L433.6,316.5 L434.4,318.1 L435.2,319.8 L436.0,321.7 L436.8,322.8 L437.6,324.7 L438.4,327.0 L439.2,328.4 L440.0,330.6 L440.8,332.5 L441.6,334.8 L442.4,337.0 L443.2,338.5 L444.0,341.0 L444.8,343.0 L445.6,345.1 L446.4,346.9 L447.2,349.2 L448.0,350.7 L448.8,352.7 L449.6,354.4 L450.4,356.7 L451.2,358.2 L452.0,359.8 L452.8,361.5 L453.6,363.5 L454.4,365.0 L455.2,366.6 L456.0,367.8 L456.8,369.3 L457.6,370.5 L458.4,372.2 L459.2,372.9 L460.0,374.5 L460.8,375.8 L461.6,376.8 L462.4,377.5 L463.2,378.6 L464.0,379.9 L464.8,380.7 L465.6,381.7 L466.4,382.5 L467.2,382.9 L468.0,383.9 L468.8,384.5 L469.6,384.8 L470.4,385.4 L471.2,385.8 L472.0,386.5 L472.8,387.4 L473.6,387.3 L474.4,388.0 L475.2,388.1 L476.0,388.5 L476.8,389.2 L477.6,389.3 L478.4,389.4 L479.2,389.8 L480.0,390.4 L480.8,390.6 L481.6,390.5 L482.4,390.8 L483.2,391.6 L484.0,391.2 L484.8,391.7 L485.6,391.7 L486.4,392.2 L487.2,392.2 L488.0,392.5 L488.8,392.4 L489.6,392.3 L490.4,392.4 L491.2,392.5 L492.0,393.1 L492.8,392.7 L493.6,392.7 L494.4,393.5 L495.2,393.1 L496.0,393.6 L496.8,393.1 L497.6,393.5 L498.4,393.4 L499.2,393.9 L500.0,393.8 L500.8,393.9 L501.6,394.1 L502.4,394.2 L503.2,393.9 L504.0,394.1 L504.8,394.1 L505.6,393.9 L506.4,394.5 L507.2,394.3 L508.0,394.6 L508.8,394.2 L509.6,394.5 L510.4,394.4 L511.2,394.7 L512.0,394.3 L512.8,394.5 L513.6,394.6 L514.4,394.4 L515.2,394.8 L516.0,394.9 L516.8,394.7 L517.6,394.9 L518.4,394.9 L519.2,394.7 L520.0,394.8 L520.8,395.3 L521.6,394.9 L522.4,395.0 L523.2,394.8 L524.0,394.9 L524.8,394.9 L525.6,395.5 L526.4,395.3 L527.2,395.5 L528.0,395.6 L528.8,395.3 L529.6,395.6 L530.4,395.3 L531.2,395.3 L532.0,395.7 L532.8,395.7 L533.6,395.7 L534.4,395.4 L535.2,395.7 L536.0,395.4 L536.8,395.9 L537.6,395.8 L538.4,395.4 L539.2,395.9 L540.0,395.4 L540.8,395.3" fill="none" stroke="#4050e8" stroke-width="1.2"/>
<path d="M344.0,397.2 L344.8,396.9 L345.6,397.0 L346.4,397.1 L347.2,396.7 L348.0,397.2 L348.8,396.8 L349.6,397.0 L350.4,396.9 L351.2,397.2 L352.0,397.2 L352.8,396.9 L353.6,396.7 L354.4,396.9 L355.2,396.9 L356.0,396.7 L356.8,396.8 L357.6,397.2 L358.4,397.1 L359.2,397.3 L360.0,397.3 L360.8,397.3 L361.6,396.9 L362.4,396.8 L363.2,396.9 L364.0,397.0 L364.8,397.0 L365.6,397.0 L366.4,396.9 L367.2,397.2 L368.0,396.8 L368.8,397.0 L369.6,397.3 L370.4,397.2 L371.2,396.9 L372.0,396.8 L372.8,397.2 L373.6,396.7 L374.4,396.7 L375.2,397.0 L376.0,397.0 L376.8,396.8 L377.6,396.7 L378.4,396.8 L379.2,397.2 L380.0,396.9 L380.8,397.3 L381.6,397.1 L382.4,397.2 L383.2,396.6 L384.0,396.6 L384.8,396.4 L385.6,396.7 L386.4,396.5 L387.2,396.2 L388.0,396.5 L388.8,396.0 L389.6,395.9 L390.4,395.7 L391.2,395.8 L392.0,395.1 L392.8,394.6 L393.6,394.0 L394.4,393.6 L395.2,393.1 L396.0,392.3 L396.8,391.5 L397.6,390.3 L398.4,388.7 L399.2,387.2 L400.0,386.0 L400.8,384.2 L401.6,381.9 L402.4,379.9 L403.2,377.3 L404.0,374.4 L404.8,371.4 L405.6,368.1 L406.4,365.3 L407.2,361.9 L408.0,358.3 L408.8,354.2 L409.6,350.4 L410.4,346.6 L411.2,342.6 L412.0,338.5 L412.8,334.5 L413.6,330.8 L414.4,327.0 L415.2,323.7 L416.0,321.1 L416.8,318.6 L417.6,315.9 L418.4,313.9 L419.2,312.4 L420.0,311.5 L420.8,311.3 L421.6,311.0 L422.4,311.5 L423.2,311.3 L424.0,312.0 L424.8,312.9 L425.6,313.7 L426.4,315.0 L427.2,316.2 L428.0,317.6 L428.8,318.8 L429.6,320.0 L430.4,322.0 L431.2,323.8 L432.0,325.6 L432.8,327.3 L433.6,329.5 L434.4,331.7 L435.2,333.1 L436.0,335.6 L436.8,337.4 L437.6,339.5 L438.4,341.9 L439.2,343.9 L440.0,345.7 L440.8,347.4 L441.6,349.9 L442.4,351.3 L443.2,353.4 L444.0,355.5 L444.8,357.0 L445.6,358.7 L446.4,360.9 L447.2,362.6 L448.0,363.8 L448.8,365.4 L449.6,366.9 L450.4,368.2 L451.2,369.7 L452.0,371.5 L452.8,372.2 L453.6,373.5 L454.4,374.7 L455.2,375.7 L456.0,377.1 L456.8,378.3 L457.6,379.3 L458.4,380.1 L459.2,381.1 L460.0,381.4 L460.8,382.3 L461.6,383.5 L462.4,383.6 L463.2,384.4 L464.0,385.2 L464.8,385.6 L465.6,386.3 L466.4,386.5 L467.2,387.1 L468.0,388.0 L468.8,387.9 L469.6,388.8 L470.4,388.7 L471.2,389.6 L472.0,389.7 L472.8,390.0 L473.6,389.9 L474.4,390.1 L475.2,390.8 L476.0,390.7 L476.8,390.9 L477.6,391.5 L478.4,391.8 L479.2,391.4 L480.0,392.2 L480.8,392.0 L481.6,392.1 L482.4,392.0 L483.2,392.4 L484.0,392.9 L484.8,392.5 L485.6,392.5 L486.4,392.7 L487.2,392.8 L488.0,393.0 L488.8,393.5 L489.6,393.0 L490.4,393.2 L491.2,393.8 L492.0,393.9 L492.8,394.0 L493.6,393.5 L494.4,393.7 L495.2,394.1 L496.0,393.9 L496.8,394.1 L497.6,393.9 L498.4,393.7 L499.2,394.0 L500.0,394.4 L500.8,394.4 L501.6,394.3 L502.4,394.3 L503.2,394.4 L504.0,394.4 L504.8,394.5 L505.6,394.8 L506.4,394.4 L507.2,394.7 L508.0,395.0 L508.8,394.9 L509.6,394.5 L510.4,395.1 L511.2,395.1 L512.0,394.6 L512.8,394.7 L513.6,394.7 L514.4,394.6 L515.2,395.3 L516.0,395.0 L516.8,395.3 L517.6,394.8 L518.4,394.8 L519.2,395.4 L520.0,395.4 L520.8,395.5 L521.6,395.4 L522.4,395.3 L523.2,395.5 L524.0,395.0 L524.8,395.4 L525.6,395.3 L526.4,395.1 L527.2,395.5 L528.0,395.3 L528.8,395.5 L529.6,395.4 L530.4,395.4 L531.2,395.4 L532.0,395.6 L532.8,395.9 L533.6,395.9 L534.4,395.8 L535.2,395.8 L536.0,395.5 L536.8,396.0 L537.6,395.5 L538.4,395.4 L539.2,395.7 L540.0,395.9 L540.8,395.6" fill="none" stroke="#d020d0" stroke-width="1.2"/>
<rect x="466" y="311" width="73" height="59.4" fill="#040828"/>
<rect x="469" y="315" width="18.4" height="11" fill="#0c2a90" stroke="#3a6cff" stroke-width="0.8" opacity="0.9"/>
<rect x="469" y="315" width="18.4" height="2.5" fill="#3a6cff" opacity="0.7"/>
<rect x="469" y="326" width="18.4" height="36" fill="#1c48f4"/>
<rect x="471" y="326" width="14.399999999999999" height="34" fill="#3a6cff" opacity="0.35"/>
<rect x="469" y="326" width="1.5" height="36" fill="#3a6cff" opacity="0.9"/>
<rect x="485.9" y="326" width="1.5" height="36" fill="#3a6cff" opacity="0.9"/>
<rect x="491" y="315" width="19" height="11" fill="#0c4aa0" stroke="#40bcff" stroke-width="0.8" opacity="0.9"/>
<rect x="491" y="315" width="19" height="2.5" fill="#40bcff" opacity="0.7"/>
<rect x="491" y="326" width="19" height="36" fill="#1a98f4"/>
<rect x="493" y="326" width="15" height="34" fill="#40bcff" opacity="0.35"/>
<rect x="491" y="326" width="1.5" height="36" fill="#40bcff" opacity="0.9"/>
<rect x="508.5" y="326" width="1.5" height="36" fill="#40bcff" opacity="0.9"/>
<rect x="515.6" y="315" width="18.4" height="11" fill="#0c58a8" stroke="#4ad4ff" stroke-width="0.8" opacity="0.9"/>
<rect x="515.6" y="315" width="18.4" height="2.5" fill="#4ad4ff" opacity="0.7"/>
<rect x="515.6" y="326" width="18.4" height="36" fill="#1aa8f0"/>
<rect x="517.6" y="326" width="14.399999999999999" height="34" fill="#4ad4ff" opacity="0.35"/>
<rect x="515.6" y="326" width="1.5" height="36" fill="#4ad4ff" opacity="0.9"/>
<rect x="532.5" y="326" width="1.5" height="36" fill="#4ad4ff" opacity="0.9"/>
<line x1="478" y1="358.4" x2="527" y2="358.4" stroke="#fff" stroke-width="1.4"/>
<path d="M473.5,358.4 L479.5,355 L479.5,361.8Z" fill="#fff"/>
<text x="501.5" y="368" font-size="7.2" font-family="Liberation Sans, sans-serif" font-weight="bold" fill="#f0f0f0" text-anchor="middle" textLength="37" lengthAdjust="spacingAndGlyphs" >Ga increase</text>
</svg></body></html>
